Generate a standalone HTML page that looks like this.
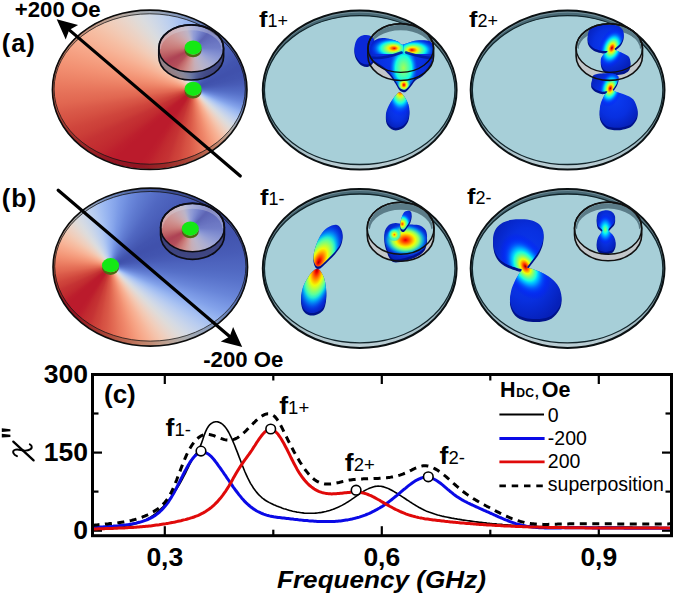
<!DOCTYPE html>
<html><head><meta charset="utf-8"><style>
html,body{margin:0;padding:0;background:#fff;}
#w{position:relative;width:675px;height:596px;overflow:hidden;background:#fff;font-family:"Liberation Sans",sans-serif;}
#w svg{position:absolute;left:0;top:0;}
</style></head><body><div id="w">
<div style="position:absolute;left:52.4px;top:10.1px;width:194.6px;height:159.4px;border-radius:50%;background:conic-gradient(from 0deg at 140.8px 78.9px, rgb(111,135,185) 0deg, rgb(103,128,183) 4deg, rgb(96,120,179) 8deg, rgb(90,114,175) 12deg, rgb(84,107,171) 16deg, rgb(79,101,167) 20deg, rgb(74,95,162) 24deg, rgb(70,90,159) 28deg, rgb(66,85,155) 32deg, rgb(62,81,150) 36deg, rgb(60,77,147) 40deg, rgb(58,74,145) 44deg, rgb(55,71,141) 48deg, rgb(54,68,139) 52deg, rgb(52,66,137) 56deg, rgb(51,65,135) 60deg, rgb(50,63,134) 64deg, rgb(50,63,134) 68deg, rgb(51,65,135) 72deg, rgb(52,66,137) 76deg, rgb(54,68,139) 80deg, rgb(56,72,143) 84deg, rgb(60,77,147) 88deg, rgb(63,82,151) 92deg, rgb(68,88,157) 96deg, rgb(75,96,163) 100deg, rgb(82,104,169) 104deg, rgb(92,116,177) 108deg, rgb(102,127,182) 112deg, rgb(116,139,187) 116deg, rgb(131,151,188) 120deg, rgb(143,159,187) 124deg, rgb(155,166,183) 128deg, rgb(165,170,178) 132deg, rgb(174,171,169) 136deg, rgb(182,166,158) 140deg, rgb(188,160,145) 144deg, rgb(191,152,133) 148deg, rgb(193,141,119) 152deg, rgb(192,132,108) 156deg, rgb(191,123,99) 160deg, rgb(188,113,89) 164deg, rgb(185,103,81) 168deg, rgb(182,95,74) 172deg, rgb(178,86,67) 176deg, rgb(174,77,61) 180deg, rgb(170,69,56) 184deg, rgb(166,62,52) 188deg, rgb(161,53,47) 192deg, rgb(158,48,44) 196deg, rgb(154,40,40) 200deg, rgb(152,36,38) 204deg, rgb(150,31,37) 208deg, rgb(147,24,35) 212deg, rgb(146,21,34) 216deg, rgb(146,21,34) 220deg, rgb(146,21,34) 224deg, rgb(146,21,34) 228deg, rgb(147,24,35) 232deg, rgb(150,31,37) 236deg, rgb(152,36,38) 240deg, rgb(154,40,40) 244deg, rgb(158,48,44) 248deg, rgb(161,53,47) 252deg, rgb(166,62,52) 256deg, rgb(170,71,57) 260deg, rgb(175,80,63) 264deg, rgb(179,88,68) 268deg, rgb(183,96,75) 272deg, rgb(186,105,82) 276deg, rgb(188,113,89) 280deg, rgb(191,120,96) 284deg, rgb(192,127,103) 288deg, rgb(193,134,111) 292deg, rgb(193,141,119) 296deg, rgb(192,147,127) 300deg, rgb(191,153,135) 304deg, rgb(188,159,144) 308deg, rgb(185,163,151) 312deg, rgb(181,167,159) 316deg, rgb(176,170,167) 320deg, rgb(171,172,173) 324deg, rgb(165,170,177) 328deg, rgb(159,168,181) 332deg, rgb(153,165,184) 336deg, rgb(147,161,186) 340deg, rgb(140,157,188) 344deg, rgb(133,152,188) 348deg, rgb(125,147,188) 352deg, rgb(118,140,187) 356deg, rgb(111,135,185) 360deg);"></div>
<div style="position:absolute;left:54.1px;top:13.8px;width:191.2px;height:150.4px;border-radius:50%;background:conic-gradient(from 0deg at 139.1px 75.2px, rgb(142,172,238) 0deg, rgb(133,164,234) 4deg, rgb(123,154,230) 8deg, rgb(115,146,225) 12deg, rgb(107,137,219) 16deg, rgb(101,129,214) 20deg, rgb(95,122,208) 24deg, rgb(90,116,203) 28deg, rgb(85,109,198) 32deg, rgb(80,103,193) 36deg, rgb(77,99,189) 40deg, rgb(74,95,186) 44deg, rgb(71,91,181) 48deg, rgb(69,88,178) 52deg, rgb(66,84,175) 56deg, rgb(65,83,174) 60deg, rgb(64,81,172) 64deg, rgb(64,81,172) 68deg, rgb(65,83,174) 72deg, rgb(66,84,175) 76deg, rgb(69,88,178) 80deg, rgb(72,92,183) 84deg, rgb(77,99,189) 88deg, rgb(81,105,194) 92deg, rgb(87,113,201) 96deg, rgb(96,123,209) 100deg, rgb(105,134,217) 104deg, rgb(118,148,226) 108deg, rgb(131,162,234) 112deg, rgb(149,179,240) 116deg, rgb(167,193,242) 120deg, rgb(184,204,240) 124deg, rgb(199,212,235) 128deg, rgb(212,218,228) 132deg, rgb(223,219,217) 136deg, rgb(233,213,203) 140deg, rgb(241,205,186) 144deg, rgb(245,194,170) 148deg, rgb(247,181,153) 152deg, rgb(247,169,139) 156deg, rgb(245,157,126) 160deg, rgb(242,144,114) 164deg, rgb(238,132,104) 168deg, rgb(233,122,95) 172deg, rgb(228,110,86) 176deg, rgb(223,99,78) 180deg, rgb(217,88,71) 184deg, rgb(213,80,66) 188deg, rgb(207,69,60) 192deg, rgb(203,62,56) 196deg, rgb(197,51,52) 200deg, rgb(195,46,49) 204deg, rgb(192,40,47) 208deg, rgb(189,31,45) 212deg, rgb(187,27,44) 216deg, rgb(187,27,44) 220deg, rgb(187,27,44) 224deg, rgb(187,27,44) 228deg, rgb(189,31,45) 232deg, rgb(192,40,47) 236deg, rgb(195,46,49) 240deg, rgb(197,51,52) 244deg, rgb(203,62,56) 248deg, rgb(207,69,60) 252deg, rgb(213,80,66) 256deg, rgb(218,90,73) 260deg, rgb(225,103,81) 264deg, rgb(229,112,88) 268deg, rgb(234,123,96) 272deg, rgb(238,134,105) 276deg, rgb(242,144,114) 280deg, rgb(244,154,123) 284deg, rgb(246,163,133) 288deg, rgb(247,172,142) 292deg, rgb(247,181,153) 296deg, rgb(246,189,162) 300deg, rgb(244,197,173) 304deg, rgb(241,204,184) 308deg, rgb(237,209,194) 312deg, rgb(232,214,204) 316deg, rgb(225,218,214) 320deg, rgb(219,220,222) 324deg, rgb(212,218,228) 328deg, rgb(204,215,232) 332deg, rgb(196,211,236) 336deg, rgb(188,207,239) 340deg, rgb(180,202,240) 344deg, rgb(170,195,242) 348deg, rgb(160,188,241) 352deg, rgb(151,180,240) 356deg, rgb(142,172,238) 360deg);"></div>
<div style="position:absolute;left:158.8px;top:24.8px;width:64.8px;height:47.2px;border-radius:50%;background:conic-gradient(from 0deg at 34.4px 23.2px, rgb(149,159,213) 0deg, rgb(144,155,213) 4deg, rgb(139,151,212) 8deg, rgb(133,146,210) 12deg, rgb(128,140,208) 16deg, rgb(123,136,206) 20deg, rgb(117,130,202) 24deg, rgb(112,124,199) 28deg, rgb(107,118,195) 32deg, rgb(103,113,191) 36deg, rgb(98,107,185) 40deg, rgb(93,100,180) 44deg, rgb(94,101,181) 48deg, rgb(95,104,183) 52deg, rgb(97,106,185) 56deg, rgb(99,109,187) 60deg, rgb(101,111,189) 64deg, rgb(103,113,191) 68deg, rgb(104,115,192) 72deg, rgb(107,118,194) 76deg, rgb(109,120,196) 80deg, rgb(110,122,197) 84deg, rgb(112,124,199) 88deg, rgb(116,128,201) 92deg, rgb(121,134,205) 96deg, rgb(126,139,207) 100deg, rgb(131,144,209) 104deg, rgb(136,148,211) 108deg, rgb(142,153,212) 112deg, rgb(146,157,213) 116deg, rgb(152,162,213) 120deg, rgb(157,165,213) 124deg, rgb(162,168,212) 128deg, rgb(167,171,211) 132deg, rgb(172,174,209) 136deg, rgb(175,175,208) 140deg, rgb(178,177,206) 144deg, rgb(181,178,204) 148deg, rgb(184,179,203) 152deg, rgb(187,180,200) 156deg, rgb(189,180,198) 160deg, rgb(192,178,194) 164deg, rgb(195,177,190) 168deg, rgb(197,175,187) 172deg, rgb(199,173,182) 176deg, rgb(202,169,174) 180deg, rgb(204,164,167) 184deg, rgb(206,158,158) 188deg, rgb(206,152,151) 192deg, rgb(206,144,142) 196deg, rgb(205,137,135) 200deg, rgb(203,129,128) 204deg, rgb(200,120,119) 208deg, rgb(196,112,113) 212deg, rgb(192,103,106) 216deg, rgb(187,92,98) 220deg, rgb(181,81,92) 224deg, rgb(179,77,90) 228deg, rgb(177,74,88) 232deg, rgb(176,72,87) 236deg, rgb(174,68,86) 240deg, rgb(174,67,85) 244deg, rgb(177,74,88) 248deg, rgb(182,83,93) 252deg, rgb(187,92,98) 256deg, rgb(191,100,104) 260deg, rgb(195,108,110) 264deg, rgb(199,117,116) 268deg, rgb(201,123,121) 272deg, rgb(203,128,127) 276deg, rgb(204,133,131) 280deg, rgb(205,138,136) 284deg, rgb(206,142,140) 288deg, rgb(206,147,145) 292deg, rgb(207,151,150) 296deg, rgb(206,155,155) 300deg, rgb(206,159,159) 304deg, rgb(205,162,165) 308deg, rgb(204,165,169) 312deg, rgb(202,169,174) 316deg, rgb(201,171,179) 320deg, rgb(199,173,183) 324deg, rgb(197,175,187) 328deg, rgb(194,177,191) 332deg, rgb(192,179,195) 336deg, rgb(189,180,199) 340deg, rgb(181,178,204) 344deg, rgb(173,175,209) 348deg, rgb(165,170,211) 352deg, rgb(158,165,213) 356deg, rgb(149,159,213) 360deg);"></div>
<div style="position:absolute;left:53.0px;top:188.1px;width:194.6px;height:158.1px;border-radius:50%;background:conic-gradient(from 0deg at 57.5px 77.3px, rgb(111,135,185) 0deg, rgb(103,128,183) 4deg, rgb(96,120,179) 8deg, rgb(90,114,175) 12deg, rgb(84,107,171) 16deg, rgb(79,101,167) 20deg, rgb(74,95,162) 24deg, rgb(70,90,159) 28deg, rgb(66,85,155) 32deg, rgb(62,81,150) 36deg, rgb(60,77,147) 40deg, rgb(58,74,145) 44deg, rgb(55,71,141) 48deg, rgb(54,68,139) 52deg, rgb(52,66,137) 56deg, rgb(51,65,135) 60deg, rgb(50,63,134) 64deg, rgb(50,63,134) 68deg, rgb(51,65,135) 72deg, rgb(52,66,137) 76deg, rgb(54,68,139) 80deg, rgb(56,72,143) 84deg, rgb(60,77,147) 88deg, rgb(63,82,151) 92deg, rgb(68,88,157) 96deg, rgb(75,96,163) 100deg, rgb(82,104,169) 104deg, rgb(92,116,177) 108deg, rgb(102,127,182) 112deg, rgb(116,139,187) 116deg, rgb(131,151,188) 120deg, rgb(143,159,187) 124deg, rgb(155,166,183) 128deg, rgb(165,170,178) 132deg, rgb(174,171,169) 136deg, rgb(182,166,158) 140deg, rgb(188,160,145) 144deg, rgb(191,152,133) 148deg, rgb(193,141,119) 152deg, rgb(192,132,108) 156deg, rgb(191,123,99) 160deg, rgb(188,113,89) 164deg, rgb(185,103,81) 168deg, rgb(182,95,74) 172deg, rgb(178,86,67) 176deg, rgb(174,77,61) 180deg, rgb(170,69,56) 184deg, rgb(166,62,52) 188deg, rgb(161,53,47) 192deg, rgb(158,48,44) 196deg, rgb(154,40,40) 200deg, rgb(152,36,38) 204deg, rgb(150,31,37) 208deg, rgb(147,24,35) 212deg, rgb(146,21,34) 216deg, rgb(146,21,34) 220deg, rgb(146,21,34) 224deg, rgb(146,21,34) 228deg, rgb(147,24,35) 232deg, rgb(150,31,37) 236deg, rgb(152,36,38) 240deg, rgb(154,40,40) 244deg, rgb(158,48,44) 248deg, rgb(161,53,47) 252deg, rgb(166,62,52) 256deg, rgb(170,71,57) 260deg, rgb(175,80,63) 264deg, rgb(179,88,68) 268deg, rgb(183,96,75) 272deg, rgb(186,105,82) 276deg, rgb(188,113,89) 280deg, rgb(191,120,96) 284deg, rgb(192,127,103) 288deg, rgb(193,134,111) 292deg, rgb(193,141,119) 296deg, rgb(192,147,127) 300deg, rgb(191,153,135) 304deg, rgb(188,159,144) 308deg, rgb(185,163,151) 312deg, rgb(181,167,159) 316deg, rgb(176,170,167) 320deg, rgb(171,172,173) 324deg, rgb(165,170,177) 328deg, rgb(159,168,181) 332deg, rgb(153,165,184) 336deg, rgb(147,161,186) 340deg, rgb(140,157,188) 344deg, rgb(133,152,188) 348deg, rgb(125,147,188) 352deg, rgb(118,140,187) 356deg, rgb(111,135,185) 360deg);"></div>
<div style="position:absolute;left:54.7px;top:191.5px;width:191.2px;height:149.6px;border-radius:50%;background:conic-gradient(from 0deg at 55.8px 73.9px, rgb(142,172,238) 0deg, rgb(133,164,234) 4deg, rgb(123,154,230) 8deg, rgb(115,146,225) 12deg, rgb(107,137,219) 16deg, rgb(101,129,214) 20deg, rgb(95,122,208) 24deg, rgb(90,116,203) 28deg, rgb(85,109,198) 32deg, rgb(80,103,193) 36deg, rgb(77,99,189) 40deg, rgb(74,95,186) 44deg, rgb(71,91,181) 48deg, rgb(69,88,178) 52deg, rgb(66,84,175) 56deg, rgb(65,83,174) 60deg, rgb(64,81,172) 64deg, rgb(64,81,172) 68deg, rgb(65,83,174) 72deg, rgb(66,84,175) 76deg, rgb(69,88,178) 80deg, rgb(72,92,183) 84deg, rgb(77,99,189) 88deg, rgb(81,105,194) 92deg, rgb(87,113,201) 96deg, rgb(96,123,209) 100deg, rgb(105,134,217) 104deg, rgb(118,148,226) 108deg, rgb(131,162,234) 112deg, rgb(149,179,240) 116deg, rgb(167,193,242) 120deg, rgb(184,204,240) 124deg, rgb(199,212,235) 128deg, rgb(212,218,228) 132deg, rgb(223,219,217) 136deg, rgb(233,213,203) 140deg, rgb(241,205,186) 144deg, rgb(245,194,170) 148deg, rgb(247,181,153) 152deg, rgb(247,169,139) 156deg, rgb(245,157,126) 160deg, rgb(242,144,114) 164deg, rgb(238,132,104) 168deg, rgb(233,122,95) 172deg, rgb(228,110,86) 176deg, rgb(223,99,78) 180deg, rgb(217,88,71) 184deg, rgb(213,80,66) 188deg, rgb(207,69,60) 192deg, rgb(203,62,56) 196deg, rgb(197,51,52) 200deg, rgb(195,46,49) 204deg, rgb(192,40,47) 208deg, rgb(189,31,45) 212deg, rgb(187,27,44) 216deg, rgb(187,27,44) 220deg, rgb(187,27,44) 224deg, rgb(187,27,44) 228deg, rgb(189,31,45) 232deg, rgb(192,40,47) 236deg, rgb(195,46,49) 240deg, rgb(197,51,52) 244deg, rgb(203,62,56) 248deg, rgb(207,69,60) 252deg, rgb(213,80,66) 256deg, rgb(218,90,73) 260deg, rgb(225,103,81) 264deg, rgb(229,112,88) 268deg, rgb(234,123,96) 272deg, rgb(238,134,105) 276deg, rgb(242,144,114) 280deg, rgb(244,154,123) 284deg, rgb(246,163,133) 288deg, rgb(247,172,142) 292deg, rgb(247,181,153) 296deg, rgb(246,189,162) 300deg, rgb(244,197,173) 304deg, rgb(241,204,184) 308deg, rgb(237,209,194) 312deg, rgb(232,214,204) 316deg, rgb(225,218,214) 320deg, rgb(219,220,222) 324deg, rgb(212,218,228) 328deg, rgb(204,215,232) 332deg, rgb(196,211,236) 336deg, rgb(188,207,239) 340deg, rgb(180,202,240) 344deg, rgb(170,195,242) 348deg, rgb(160,188,241) 352deg, rgb(151,180,240) 356deg, rgb(142,172,238) 360deg);"></div>
<div style="position:absolute;left:160.6px;top:203.3px;width:63.8px;height:48.4px;border-radius:50%;background:conic-gradient(from 0deg at 29.4px 25.6px, rgb(149,159,213) 0deg, rgb(144,155,213) 4deg, rgb(139,151,212) 8deg, rgb(133,146,210) 12deg, rgb(128,140,208) 16deg, rgb(123,136,206) 20deg, rgb(117,130,202) 24deg, rgb(112,124,199) 28deg, rgb(107,118,195) 32deg, rgb(103,113,191) 36deg, rgb(98,107,185) 40deg, rgb(93,100,180) 44deg, rgb(94,101,181) 48deg, rgb(95,104,183) 52deg, rgb(97,106,185) 56deg, rgb(99,109,187) 60deg, rgb(101,111,189) 64deg, rgb(103,113,191) 68deg, rgb(104,115,192) 72deg, rgb(107,118,194) 76deg, rgb(109,120,196) 80deg, rgb(110,122,197) 84deg, rgb(112,124,199) 88deg, rgb(116,128,201) 92deg, rgb(121,134,205) 96deg, rgb(126,139,207) 100deg, rgb(131,144,209) 104deg, rgb(136,148,211) 108deg, rgb(142,153,212) 112deg, rgb(146,157,213) 116deg, rgb(152,162,213) 120deg, rgb(157,165,213) 124deg, rgb(162,168,212) 128deg, rgb(167,171,211) 132deg, rgb(172,174,209) 136deg, rgb(175,175,208) 140deg, rgb(178,177,206) 144deg, rgb(181,178,204) 148deg, rgb(184,179,203) 152deg, rgb(187,180,200) 156deg, rgb(189,180,198) 160deg, rgb(192,178,194) 164deg, rgb(195,177,190) 168deg, rgb(197,175,187) 172deg, rgb(199,173,182) 176deg, rgb(202,169,174) 180deg, rgb(204,164,167) 184deg, rgb(206,158,158) 188deg, rgb(206,152,151) 192deg, rgb(206,144,142) 196deg, rgb(205,137,135) 200deg, rgb(203,129,128) 204deg, rgb(200,120,119) 208deg, rgb(196,112,113) 212deg, rgb(192,103,106) 216deg, rgb(187,92,98) 220deg, rgb(181,81,92) 224deg, rgb(179,77,90) 228deg, rgb(177,74,88) 232deg, rgb(176,72,87) 236deg, rgb(174,68,86) 240deg, rgb(174,67,85) 244deg, rgb(177,74,88) 248deg, rgb(182,83,93) 252deg, rgb(187,92,98) 256deg, rgb(191,100,104) 260deg, rgb(195,108,110) 264deg, rgb(199,117,116) 268deg, rgb(201,123,121) 272deg, rgb(203,128,127) 276deg, rgb(204,133,131) 280deg, rgb(205,138,136) 284deg, rgb(206,142,140) 288deg, rgb(206,147,145) 292deg, rgb(207,151,150) 296deg, rgb(206,155,155) 300deg, rgb(206,159,159) 304deg, rgb(205,162,165) 308deg, rgb(204,165,169) 312deg, rgb(202,169,174) 316deg, rgb(201,171,179) 320deg, rgb(199,173,183) 324deg, rgb(197,175,187) 328deg, rgb(194,177,191) 332deg, rgb(192,179,195) 336deg, rgb(189,180,199) 340deg, rgb(181,178,204) 344deg, rgb(173,175,209) 348deg, rgb(165,170,211) 352deg, rgb(158,165,213) 356deg, rgb(149,159,213) 360deg);"></div>
<svg width="675" height="596" viewBox="0 0 675 596">
<defs><radialGradient id="bbase" cx="0.5" cy="0.45" r="0.6"><stop offset="0" stop-color="#0a3cf5"/><stop offset="0.6" stop-color="#0830e0"/><stop offset="1" stop-color="#0620b8"/></radialGradient>
<linearGradient id="bd1" x1="0" y1="0" x2="0" y2="1"><stop offset="0" stop-color="#4a6b77"/><stop offset="0.3" stop-color="#3f5d68"/><stop offset="0.6" stop-color="#3f5d68"/><stop offset="0.82" stop-color="#9ab4bd"/><stop offset="1" stop-color="#bdd0d6"/></linearGradient>
<linearGradient id="bd2" x1="0" y1="0" x2="0" y2="1"><stop offset="0" stop-color="#4a6b77"/><stop offset="0.3" stop-color="#3f5d68"/><stop offset="0.6" stop-color="#3f5d68"/><stop offset="0.82" stop-color="#9ab4bd"/><stop offset="1" stop-color="#bdd0d6"/></linearGradient>
<linearGradient id="bd3" x1="0" y1="0" x2="0" y2="1"><stop offset="0" stop-color="#4a6b77"/><stop offset="0.3" stop-color="#3f5d68"/><stop offset="0.6" stop-color="#3f5d68"/><stop offset="0.82" stop-color="#9ab4bd"/><stop offset="1" stop-color="#bdd0d6"/></linearGradient>
<linearGradient id="bd4" x1="0" y1="0" x2="0" y2="1"><stop offset="0" stop-color="#4a6b77"/><stop offset="0.3" stop-color="#3f5d68"/><stop offset="0.6" stop-color="#3f5d68"/><stop offset="0.82" stop-color="#9ab4bd"/><stop offset="1" stop-color="#bdd0d6"/></linearGradient>
<clipPath id="c5"><path d="M355.1,44.1 C355.7,41.9 356.6,39.6 358.1,38.1 C359.6,36.6 362.1,35.5 364.1,35.1 C366.1,34.7 368.5,34.9 370.2,35.7 C371.9,36.5 373.4,37.7 374.2,40.1 C375.0,42.5 375.4,46.9 375.2,50.2 C375.0,53.6 374.4,57.9 373.2,60.2 C372.0,62.6 370.0,63.8 368.2,64.3 C366.4,64.8 364.0,64.3 362.1,63.3 C360.2,62.3 358.4,60.2 357.1,58.2 C355.8,56.2 354.8,53.6 354.5,51.2 C354.2,48.9 354.5,46.3 355.1,44.1 Z"/></clipPath>
<clipPath id="c6"><path d="M371.9,43.4 C372.8,42.0 373.6,40.8 375.4,39.9 C377.2,39.0 379.9,38.2 382.5,38.1 C385.1,38.0 388.2,38.7 390.8,39.3 C393.4,39.9 396.1,40.7 397.9,41.6 C399.7,42.5 400.2,44.2 401.5,44.6 C402.8,45.0 404.1,44.2 405.5,43.8 C406.9,43.4 407.9,42.8 409.8,42.2 C411.7,41.6 414.1,40.7 416.9,40.4 C419.7,40.1 424.0,40.1 426.4,40.4 C428.8,40.7 429.9,40.9 431.1,42.2 C432.3,43.5 433.2,45.9 433.5,48.1 C433.8,50.3 433.3,52.9 432.9,55.3 C432.5,57.7 432.2,60.0 431.1,62.4 C430.0,64.8 428.0,67.5 426.4,69.5 C424.8,71.5 423.4,72.8 421.6,74.2 C419.8,75.6 417.5,76.2 415.7,77.8 C413.9,79.4 412.6,81.8 411.0,83.7 C409.4,85.6 407.6,88.0 406.2,89.0 C404.8,90.0 403.9,89.9 402.7,89.6 C401.5,89.3 400.3,88.7 399.1,87.3 C397.9,85.9 397.0,83.5 395.6,81.3 C394.2,79.1 392.8,76.6 390.8,74.2 C388.8,71.8 386.1,69.1 383.7,67.1 C381.3,65.1 378.6,63.8 376.6,62.4 C374.6,61.0 373.0,60.2 371.9,58.8 C370.8,57.4 370.4,55.9 370.1,54.1 C369.8,52.3 369.8,49.9 370.1,48.1 C370.4,46.3 371.0,44.8 371.9,43.4 Z"/></clipPath>
<radialGradient id="g7" cx="0.5" cy="0.5" r="0.5" fx="0.50" fy="0.50"><stop offset="0.000" stop-color="rgb(164,255,83)" stop-opacity="1.00"/><stop offset="0.071" stop-color="rgb(148,255,99)" stop-opacity="1.00"/><stop offset="0.143" stop-color="rgb(131,255,115)" stop-opacity="1.00"/><stop offset="0.214" stop-color="rgb(115,255,131)" stop-opacity="1.00"/><stop offset="0.286" stop-color="rgb(96,255,151)" stop-opacity="1.00"/><stop offset="0.357" stop-color="rgb(80,255,167)" stop-opacity="1.00"/><stop offset="0.429" stop-color="rgb(60,255,186)" stop-opacity="1.00"/><stop offset="0.500" stop-color="rgb(41,255,206)" stop-opacity="1.00"/><stop offset="0.571" stop-color="rgb(22,255,225)" stop-opacity="1.00"/><stop offset="0.643" stop-color="rgb(2,232,244)" stop-opacity="0.89"/><stop offset="0.714" stop-color="rgb(0,208,255)" stop-opacity="0.71"/><stop offset="0.786" stop-color="rgb(0,180,255)" stop-opacity="0.54"/><stop offset="0.857" stop-color="rgb(0,152,255)" stop-opacity="0.36"/><stop offset="0.929" stop-color="rgb(0,120,255)" stop-opacity="0.18"/><stop offset="1.000" stop-color="rgb(0,76,255)" stop-opacity="0.00"/></radialGradient>
<radialGradient id="g8" cx="0.5" cy="0.5" r="0.5" fx="0.60" fy="0.50"><stop offset="0.000" stop-color="rgb(218,0,0)" stop-opacity="1.00"/><stop offset="0.071" stop-color="rgb(255,74,0)" stop-opacity="1.00"/><stop offset="0.143" stop-color="rgb(255,156,0)" stop-opacity="1.00"/><stop offset="0.214" stop-color="rgb(255,234,0)" stop-opacity="1.00"/><stop offset="0.286" stop-color="rgb(193,255,54)" stop-opacity="1.00"/><stop offset="0.357" stop-color="rgb(135,255,112)" stop-opacity="1.00"/><stop offset="0.429" stop-color="rgb(80,255,167)" stop-opacity="1.00"/><stop offset="0.500" stop-color="rgb(31,255,215)" stop-opacity="1.00"/><stop offset="0.571" stop-color="rgb(0,212,255)" stop-opacity="1.00"/><stop offset="0.643" stop-color="rgb(0,160,255)" stop-opacity="0.89"/><stop offset="0.714" stop-color="rgb(0,116,255)" stop-opacity="0.71"/><stop offset="0.786" stop-color="rgb(0,80,255)" stop-opacity="0.54"/><stop offset="0.857" stop-color="rgb(0,52,255)" stop-opacity="0.36"/><stop offset="0.929" stop-color="rgb(0,32,255)" stop-opacity="0.18"/><stop offset="1.000" stop-color="rgb(0,24,255)" stop-opacity="0.00"/></radialGradient>
<clipPath id="hc9"><rect x="360.0" y="20.0" width="43.5" height="34.0"/></clipPath>
<radialGradient id="g10" cx="0.5" cy="0.5" r="0.5" fx="0.40" fy="0.50"><stop offset="0.000" stop-color="rgb(218,0,0)" stop-opacity="1.00"/><stop offset="0.071" stop-color="rgb(255,74,0)" stop-opacity="1.00"/><stop offset="0.143" stop-color="rgb(255,156,0)" stop-opacity="1.00"/><stop offset="0.214" stop-color="rgb(255,234,0)" stop-opacity="1.00"/><stop offset="0.286" stop-color="rgb(193,255,54)" stop-opacity="1.00"/><stop offset="0.357" stop-color="rgb(135,255,112)" stop-opacity="1.00"/><stop offset="0.429" stop-color="rgb(80,255,167)" stop-opacity="1.00"/><stop offset="0.500" stop-color="rgb(31,255,215)" stop-opacity="1.00"/><stop offset="0.571" stop-color="rgb(0,212,255)" stop-opacity="1.00"/><stop offset="0.643" stop-color="rgb(0,160,255)" stop-opacity="0.89"/><stop offset="0.714" stop-color="rgb(0,116,255)" stop-opacity="0.71"/><stop offset="0.786" stop-color="rgb(0,80,255)" stop-opacity="0.54"/><stop offset="0.857" stop-color="rgb(0,52,255)" stop-opacity="0.36"/><stop offset="0.929" stop-color="rgb(0,32,255)" stop-opacity="0.18"/><stop offset="1.000" stop-color="rgb(0,24,255)" stop-opacity="0.00"/></radialGradient>
<clipPath id="hc11"><rect x="403.5" y="20.0" width="40.0" height="34.0"/></clipPath>
<radialGradient id="g12" cx="0.5" cy="0.5" r="0.5" fx="0.50" fy="0.50"><stop offset="0.000" stop-color="rgb(182,0,0)" stop-opacity="1.00"/><stop offset="0.071" stop-color="rgb(255,19,0)" stop-opacity="1.00"/><stop offset="0.143" stop-color="rgb(255,78,0)" stop-opacity="1.00"/><stop offset="0.214" stop-color="rgb(255,134,0)" stop-opacity="1.00"/><stop offset="0.286" stop-color="rgb(255,185,0)" stop-opacity="1.00"/><stop offset="0.357" stop-color="rgb(254,237,0)" stop-opacity="1.00"/><stop offset="0.429" stop-color="rgb(212,255,35)" stop-opacity="1.00"/><stop offset="0.500" stop-color="rgb(173,255,73)" stop-opacity="1.00"/><stop offset="0.571" stop-color="rgb(138,255,109)" stop-opacity="1.00"/><stop offset="0.643" stop-color="rgb(106,255,141)" stop-opacity="0.89"/><stop offset="0.714" stop-color="rgb(77,255,170)" stop-opacity="0.71"/><stop offset="0.786" stop-color="rgb(48,255,199)" stop-opacity="0.54"/><stop offset="0.857" stop-color="rgb(25,255,222)" stop-opacity="0.36"/><stop offset="0.929" stop-color="rgb(9,240,238)" stop-opacity="0.18"/><stop offset="1.000" stop-color="rgb(0,228,248)" stop-opacity="0.00"/></radialGradient>
<clipPath id="c13"><path d="M400.4,92.4 C401.6,92.9 403.1,94.5 404.4,96.5 C405.7,98.5 407.6,101.8 408.4,104.5 C409.2,107.2 409.6,109.9 409.4,112.6 C409.2,115.3 408.7,118.3 407.4,120.6 C406.1,122.9 403.8,125.4 401.4,126.6 C399.0,127.8 395.6,128.3 393.3,127.6 C391.0,126.9 388.5,124.8 387.3,122.6 C386.1,120.4 385.7,117.3 385.9,114.6 C386.1,111.9 387.1,109.2 388.3,106.5 C389.5,103.8 391.8,100.7 393.3,98.5 C394.8,96.3 396.1,94.4 397.3,93.4 C398.5,92.4 399.2,91.9 400.4,92.4 Z"/></clipPath>
<radialGradient id="g14" cx="0.5" cy="0.5" r="0.5" fx="0.50" fy="0.40"><stop offset="0.000" stop-color="rgb(182,0,0)" stop-opacity="1.00"/><stop offset="0.071" stop-color="rgb(255,56,0)" stop-opacity="1.00"/><stop offset="0.143" stop-color="rgb(255,145,0)" stop-opacity="1.00"/><stop offset="0.214" stop-color="rgb(255,226,0)" stop-opacity="1.00"/><stop offset="0.286" stop-color="rgb(196,255,51)" stop-opacity="1.00"/><stop offset="0.357" stop-color="rgb(131,255,115)" stop-opacity="1.00"/><stop offset="0.429" stop-color="rgb(77,255,170)" stop-opacity="1.00"/><stop offset="0.500" stop-color="rgb(25,255,222)" stop-opacity="1.00"/><stop offset="0.571" stop-color="rgb(0,200,255)" stop-opacity="1.00"/><stop offset="0.643" stop-color="rgb(0,152,255)" stop-opacity="0.89"/><stop offset="0.714" stop-color="rgb(0,108,255)" stop-opacity="0.71"/><stop offset="0.786" stop-color="rgb(0,76,255)" stop-opacity="0.54"/><stop offset="0.857" stop-color="rgb(0,48,255)" stop-opacity="0.36"/><stop offset="0.929" stop-color="rgb(0,32,255)" stop-opacity="0.18"/><stop offset="1.000" stop-color="rgb(0,24,255)" stop-opacity="0.00"/></radialGradient>
<clipPath id="c15"><path d="M587.7,40.2 C587.4,38.3 587.7,34.5 588.3,32.6 C588.9,30.7 589.8,28.7 591.4,27.6 C593.0,26.5 596.5,25.6 599.0,25.1 C601.5,24.6 605.0,24.3 607.8,24.4 C610.6,24.5 615.6,24.8 617.9,25.7 C620.2,26.6 622.0,28.5 622.9,30.1 C623.8,31.7 623.9,34.5 623.6,36.4 C623.3,38.3 622.0,41.1 621.0,42.7 C620.0,44.3 617.5,46.1 616.6,47.1 C615.7,48.1 613.9,48.7 614.7,49.6 C615.5,50.5 619.6,51.8 621.7,52.8 C623.8,53.8 627.3,55.1 628.6,56.6 C629.9,58.1 630.5,61.1 630.5,62.9 C630.5,64.7 629.7,67.2 628.6,68.5 C627.5,69.8 625.1,71.1 622.9,71.7 C620.7,72.3 616.7,72.5 614.1,72.3 C611.5,72.1 607.2,71.4 605.3,70.4 C603.4,69.4 602.2,67.1 601.5,65.4 C600.8,63.7 600.6,60.7 600.9,59.1 C601.2,57.5 602.4,55.8 603.4,54.7 C604.4,53.6 607.9,52.1 607.8,51.5 C607.7,50.9 604.7,51.3 602.8,50.9 C600.9,50.5 597.1,49.9 595.2,49.0 C593.3,48.1 591.3,46.5 590.2,45.2 C589.1,43.9 588.0,42.1 587.7,40.2 Z"/></clipPath>
<radialGradient id="g16" cx="0.5" cy="0.5" r="0.5" fx="0.50" fy="0.50"><stop offset="0.000" stop-color="rgb(128,0,0)" stop-opacity="1.00"/><stop offset="0.071" stop-color="rgb(255,30,0)" stop-opacity="1.00"/><stop offset="0.143" stop-color="rgb(255,137,0)" stop-opacity="1.00"/><stop offset="0.214" stop-color="rgb(255,234,0)" stop-opacity="1.00"/><stop offset="0.286" stop-color="rgb(180,255,67)" stop-opacity="1.00"/><stop offset="0.357" stop-color="rgb(112,255,135)" stop-opacity="1.00"/><stop offset="0.429" stop-color="rgb(51,255,196)" stop-opacity="1.00"/><stop offset="0.500" stop-color="rgb(0,228,248)" stop-opacity="1.00"/><stop offset="0.571" stop-color="rgb(0,172,255)" stop-opacity="1.00"/><stop offset="0.643" stop-color="rgb(0,124,255)" stop-opacity="0.89"/><stop offset="0.714" stop-color="rgb(0,88,255)" stop-opacity="0.71"/><stop offset="0.786" stop-color="rgb(0,56,255)" stop-opacity="0.54"/><stop offset="0.857" stop-color="rgb(0,40,255)" stop-opacity="0.36"/><stop offset="0.929" stop-color="rgb(0,28,255)" stop-opacity="0.18"/><stop offset="1.000" stop-color="rgb(0,24,255)" stop-opacity="0.00"/></radialGradient>
<clipPath id="c17"><path d="M592.2,79.4 C592.5,78.1 592.0,76.3 593.2,75.4 C594.4,74.5 597.3,73.7 600.2,73.4 C603.1,73.1 609.6,73.0 612.3,73.4 C615.0,73.9 617.6,75.1 618.4,76.4 C619.1,77.8 617.9,80.8 617.3,82.4 C616.7,84.1 614.9,86.2 614.3,87.4 C613.7,88.6 611.8,89.4 613.3,90.5 C614.8,91.6 621.4,93.2 624.4,94.5 C627.4,95.8 631.4,97.2 633.4,99.5 C635.4,101.8 637.0,106.9 637.5,109.6 C638.0,112.3 637.6,115.3 636.5,117.6 C635.4,119.9 633.1,123.2 630.4,124.7 C627.7,126.2 622.0,127.5 618.4,127.7 C614.8,127.9 609.0,127.2 606.3,125.7 C603.6,124.2 601.1,120.6 600.2,117.6 C599.3,114.6 599.6,108.8 600.2,105.5 C600.8,102.2 603.2,97.6 604.3,95.5 C605.4,93.4 607.8,92.1 607.3,91.5 C606.8,90.9 603.2,92.0 601.2,91.5 C599.2,91.0 595.7,89.5 594.2,88.4 C592.7,87.3 591.5,85.8 591.2,84.4 C590.9,83.1 591.9,80.8 592.2,79.4 Z"/></clipPath>
<radialGradient id="g18" cx="0.5" cy="0.5" r="0.5" fx="0.50" fy="0.50"><stop offset="0.000" stop-color="rgb(128,0,0)" stop-opacity="1.00"/><stop offset="0.071" stop-color="rgb(255,30,0)" stop-opacity="1.00"/><stop offset="0.143" stop-color="rgb(255,137,0)" stop-opacity="1.00"/><stop offset="0.214" stop-color="rgb(255,234,0)" stop-opacity="1.00"/><stop offset="0.286" stop-color="rgb(180,255,67)" stop-opacity="1.00"/><stop offset="0.357" stop-color="rgb(112,255,135)" stop-opacity="1.00"/><stop offset="0.429" stop-color="rgb(51,255,196)" stop-opacity="1.00"/><stop offset="0.500" stop-color="rgb(0,228,248)" stop-opacity="1.00"/><stop offset="0.571" stop-color="rgb(0,172,255)" stop-opacity="1.00"/><stop offset="0.643" stop-color="rgb(0,124,255)" stop-opacity="0.89"/><stop offset="0.714" stop-color="rgb(0,88,255)" stop-opacity="0.71"/><stop offset="0.786" stop-color="rgb(0,56,255)" stop-opacity="0.54"/><stop offset="0.857" stop-color="rgb(0,40,255)" stop-opacity="0.36"/><stop offset="0.929" stop-color="rgb(0,28,255)" stop-opacity="0.18"/><stop offset="1.000" stop-color="rgb(0,24,255)" stop-opacity="0.00"/></radialGradient>
<clipPath id="c19"><path d="M336.2,224.8 C338.4,225.0 339.7,226.8 340.8,228.5 C341.9,230.2 342.6,232.5 342.6,234.9 C342.6,237.3 342.0,240.4 340.8,243.2 C339.6,246.0 337.2,249.0 335.2,251.5 C333.2,254.0 330.8,256.0 328.8,258.0 C326.8,260.0 324.8,262.1 323.2,263.5 C321.6,264.9 320.7,266.0 319.5,266.3 C318.3,266.6 316.8,266.5 315.8,265.4 C314.8,264.3 313.9,261.9 313.6,259.8 C313.3,257.7 313.5,255.3 314.0,252.5 C314.5,249.7 315.6,246.3 316.8,243.2 C318.0,240.1 319.6,236.6 321.4,234.0 C323.2,231.4 325.3,229.0 327.8,227.5 C330.3,226.0 334.0,224.6 336.2,224.8 Z"/></clipPath>
<radialGradient id="g20" cx="0.5" cy="0.5" r="0.5" fx="0.50" fy="0.62"><stop offset="0.000" stop-color="rgb(159,0,0)" stop-opacity="1.00"/><stop offset="0.071" stop-color="rgb(237,4,0)" stop-opacity="1.00"/><stop offset="0.143" stop-color="rgb(255,67,0)" stop-opacity="1.00"/><stop offset="0.214" stop-color="rgb(255,130,0)" stop-opacity="1.00"/><stop offset="0.286" stop-color="rgb(255,193,0)" stop-opacity="1.00"/><stop offset="0.357" stop-color="rgb(241,252,6)" stop-opacity="1.00"/><stop offset="0.429" stop-color="rgb(190,255,57)" stop-opacity="1.00"/><stop offset="0.500" stop-color="rgb(138,255,109)" stop-opacity="1.00"/><stop offset="0.571" stop-color="rgb(90,255,157)" stop-opacity="1.00"/><stop offset="0.643" stop-color="rgb(41,255,206)" stop-opacity="0.89"/><stop offset="0.714" stop-color="rgb(0,224,251)" stop-opacity="0.71"/><stop offset="0.786" stop-color="rgb(0,168,255)" stop-opacity="0.54"/><stop offset="0.857" stop-color="rgb(0,112,255)" stop-opacity="0.36"/><stop offset="0.929" stop-color="rgb(0,64,255)" stop-opacity="0.18"/><stop offset="1.000" stop-color="rgb(0,24,255)" stop-opacity="0.00"/></radialGradient>
<clipPath id="c21"><path d="M316.8,269.1 C318.2,269.0 319.3,269.4 320.5,270.9 C321.7,272.4 323.3,275.5 324.2,278.3 C325.1,281.1 325.7,284.1 326.0,287.5 C326.3,290.9 326.5,295.2 326.0,298.6 C325.5,302.0 324.9,305.5 323.2,307.8 C321.5,310.1 318.2,311.7 315.8,312.5 C313.4,313.3 310.6,313.3 308.5,312.5 C306.4,311.7 304.1,310.1 302.9,307.8 C301.7,305.5 301.1,302.0 301.1,298.6 C301.1,295.2 301.8,290.9 302.9,287.5 C304.0,284.1 305.9,280.9 307.5,278.3 C309.1,275.7 310.6,273.3 312.2,271.8 C313.8,270.3 315.4,269.2 316.8,269.1 Z"/></clipPath>
<radialGradient id="g22" cx="0.5" cy="0.5" r="0.5" fx="0.50" fy="0.38"><stop offset="0.000" stop-color="rgb(159,0,0)" stop-opacity="1.00"/><stop offset="0.071" stop-color="rgb(237,4,0)" stop-opacity="1.00"/><stop offset="0.143" stop-color="rgb(255,67,0)" stop-opacity="1.00"/><stop offset="0.214" stop-color="rgb(255,130,0)" stop-opacity="1.00"/><stop offset="0.286" stop-color="rgb(255,193,0)" stop-opacity="1.00"/><stop offset="0.357" stop-color="rgb(241,252,6)" stop-opacity="1.00"/><stop offset="0.429" stop-color="rgb(190,255,57)" stop-opacity="1.00"/><stop offset="0.500" stop-color="rgb(138,255,109)" stop-opacity="1.00"/><stop offset="0.571" stop-color="rgb(90,255,157)" stop-opacity="1.00"/><stop offset="0.643" stop-color="rgb(41,255,206)" stop-opacity="0.89"/><stop offset="0.714" stop-color="rgb(0,224,251)" stop-opacity="0.71"/><stop offset="0.786" stop-color="rgb(0,168,255)" stop-opacity="0.54"/><stop offset="0.857" stop-color="rgb(0,112,255)" stop-opacity="0.36"/><stop offset="0.929" stop-color="rgb(0,64,255)" stop-opacity="0.18"/><stop offset="1.000" stop-color="rgb(0,24,255)" stop-opacity="0.00"/></radialGradient>
<clipPath id="c23"><path d="M385.5,229.4 C386.4,227.6 387.9,225.7 389.6,224.6 C391.3,223.5 393.4,223.0 395.6,222.9 C397.8,222.8 400.4,223.7 403.0,224.0 C405.6,224.3 408.3,224.4 411.0,224.6 C413.7,224.8 416.9,224.4 419.3,225.2 C421.7,226.0 423.9,227.7 425.2,229.4 C426.5,231.1 426.8,233.1 427.0,235.3 C427.2,237.5 426.9,240.2 426.4,242.4 C425.9,244.6 425.4,246.5 424.0,248.3 C422.6,250.1 420.5,251.7 418.1,253.1 C415.7,254.5 412.8,255.6 409.8,256.6 C406.8,257.6 403.1,258.6 400.3,259.0 C397.5,259.4 395.1,259.8 393.2,259.0 C391.3,258.2 390.1,256.1 389.0,254.3 C387.9,252.5 387.4,250.3 386.7,248.3 C386.0,246.3 385.3,244.6 384.9,242.4 C384.5,240.2 384.2,237.5 384.3,235.3 C384.4,233.1 384.6,231.2 385.5,229.4 Z"/></clipPath>
<radialGradient id="g24" cx="0.5" cy="0.5" r="0.5" fx="0.50" fy="0.50"><stop offset="0.000" stop-color="rgb(205,0,0)" stop-opacity="1.00"/><stop offset="0.071" stop-color="rgb(255,26,0)" stop-opacity="1.00"/><stop offset="0.143" stop-color="rgb(255,71,0)" stop-opacity="1.00"/><stop offset="0.214" stop-color="rgb(255,115,0)" stop-opacity="1.00"/><stop offset="0.286" stop-color="rgb(255,163,0)" stop-opacity="1.00"/><stop offset="0.357" stop-color="rgb(255,211,0)" stop-opacity="1.00"/><stop offset="0.429" stop-color="rgb(235,255,12)" stop-opacity="1.00"/><stop offset="0.500" stop-color="rgb(193,255,54)" stop-opacity="1.00"/><stop offset="0.571" stop-color="rgb(148,255,99)" stop-opacity="1.00"/><stop offset="0.643" stop-color="rgb(102,255,144)" stop-opacity="0.89"/><stop offset="0.714" stop-color="rgb(57,255,190)" stop-opacity="0.71"/><stop offset="0.786" stop-color="rgb(9,240,238)" stop-opacity="0.54"/><stop offset="0.857" stop-color="rgb(0,176,255)" stop-opacity="0.36"/><stop offset="0.929" stop-color="rgb(0,108,255)" stop-opacity="0.18"/><stop offset="1.000" stop-color="rgb(0,24,255)" stop-opacity="0.00"/></radialGradient>
<radialGradient id="g25" cx="0.5" cy="0.5" r="0.5" fx="0.50" fy="0.50"><stop offset="0.000" stop-color="rgb(255,104,0)" stop-opacity="1.00"/><stop offset="0.071" stop-color="rgb(255,152,0)" stop-opacity="1.00"/><stop offset="0.143" stop-color="rgb(255,200,0)" stop-opacity="1.00"/><stop offset="0.214" stop-color="rgb(244,248,2)" stop-opacity="1.00"/><stop offset="0.286" stop-color="rgb(209,255,38)" stop-opacity="1.00"/><stop offset="0.357" stop-color="rgb(170,255,77)" stop-opacity="1.00"/><stop offset="0.429" stop-color="rgb(138,255,109)" stop-opacity="1.00"/><stop offset="0.500" stop-color="rgb(106,255,141)" stop-opacity="1.00"/><stop offset="0.571" stop-color="rgb(73,255,173)" stop-opacity="1.00"/><stop offset="0.643" stop-color="rgb(48,255,199)" stop-opacity="0.89"/><stop offset="0.714" stop-color="rgb(22,255,225)" stop-opacity="0.71"/><stop offset="0.786" stop-color="rgb(0,228,248)" stop-opacity="0.54"/><stop offset="0.857" stop-color="rgb(0,204,255)" stop-opacity="0.36"/><stop offset="0.929" stop-color="rgb(0,188,255)" stop-opacity="0.18"/><stop offset="1.000" stop-color="rgb(0,176,255)" stop-opacity="0.00"/></radialGradient>
<clipPath id="c26"><path d="M405.0,211.6 C406.3,210.7 408.7,210.6 409.8,211.0 C410.9,211.4 411.5,212.5 411.6,214.0 C411.7,215.5 411.2,217.9 410.4,219.9 C409.6,221.9 407.9,224.2 406.8,225.8 C405.7,227.4 404.9,229.0 403.9,229.4 C402.9,229.8 401.5,229.2 400.9,228.2 C400.3,227.2 400.1,225.4 400.3,223.4 C400.5,221.4 401.3,218.3 402.1,216.3 C402.9,214.3 403.7,212.5 405.0,211.6 Z"/></clipPath>
<radialGradient id="g27" cx="0.5" cy="0.5" r="0.5" fx="0.50" fy="0.50"><stop offset="0.000" stop-color="rgb(255,56,0)" stop-opacity="1.00"/><stop offset="0.071" stop-color="rgb(255,126,0)" stop-opacity="1.00"/><stop offset="0.143" stop-color="rgb(255,193,0)" stop-opacity="1.00"/><stop offset="0.214" stop-color="rgb(238,255,9)" stop-opacity="1.00"/><stop offset="0.286" stop-color="rgb(183,255,64)" stop-opacity="1.00"/><stop offset="0.357" stop-color="rgb(131,255,115)" stop-opacity="1.00"/><stop offset="0.429" stop-color="rgb(83,255,164)" stop-opacity="1.00"/><stop offset="0.500" stop-color="rgb(38,255,209)" stop-opacity="1.00"/><stop offset="0.571" stop-color="rgb(0,224,251)" stop-opacity="1.00"/><stop offset="0.643" stop-color="rgb(0,176,255)" stop-opacity="0.89"/><stop offset="0.714" stop-color="rgb(0,132,255)" stop-opacity="0.71"/><stop offset="0.786" stop-color="rgb(0,96,255)" stop-opacity="0.54"/><stop offset="0.857" stop-color="rgb(0,64,255)" stop-opacity="0.36"/><stop offset="0.929" stop-color="rgb(0,36,255)" stop-opacity="0.18"/><stop offset="1.000" stop-color="rgb(0,24,255)" stop-opacity="0.00"/></radialGradient>
<clipPath id="c28"><path d="M493.5,246.0 C493.1,243.0 492.8,239.0 493.3,236.0 C493.8,233.0 494.9,230.2 496.5,228.0 C498.1,225.8 500.4,223.9 503.0,222.5 C505.6,221.1 508.8,220.3 512.0,219.8 C515.2,219.3 518.7,219.2 522.0,219.3 C525.3,219.4 529.1,219.6 532.0,220.5 C534.9,221.4 537.6,222.7 539.5,224.5 C541.4,226.3 542.7,228.8 543.3,231.5 C543.9,234.2 543.6,237.4 543.0,240.5 C542.4,243.6 541.0,247.1 539.5,250.0 C538.0,252.9 535.7,255.7 534.0,258.0 C532.3,260.3 530.6,262.4 529.5,264.0 C528.4,265.6 527.0,266.6 527.3,267.4 C527.6,268.2 528.9,267.7 531.3,268.6 C533.6,269.5 538.0,271.0 541.4,272.6 C544.8,274.2 548.5,276.2 551.4,278.5 C554.2,280.8 556.8,283.5 558.5,286.5 C560.2,289.5 561.3,293.2 561.5,296.6 C561.7,300.0 561.2,303.4 559.5,306.6 C557.8,309.8 554.8,313.6 551.4,315.7 C548.0,317.8 543.8,318.5 539.4,318.9 C535.0,319.3 529.3,318.9 525.3,317.9 C521.3,316.9 517.7,315.2 515.2,312.7 C512.7,310.1 510.9,306.3 510.2,302.6 C509.5,298.9 510.4,294.2 511.2,290.5 C512.0,286.8 513.9,283.4 515.2,280.5 C516.5,277.6 518.1,275.2 519.2,273.4 C520.3,271.6 522.2,270.5 521.8,269.6 C521.4,268.7 519.2,268.8 517.0,268.0 C514.8,267.2 511.2,266.2 508.5,265.0 C505.8,263.8 503.1,262.3 501.0,260.5 C498.9,258.7 497.2,256.4 496.0,254.0 C494.8,251.6 493.9,249.0 493.5,246.0 Z"/></clipPath>
<radialGradient id="g29" cx="0.5" cy="0.5" r="0.5" fx="0.50" fy="0.50"><stop offset="0.000" stop-color="rgb(128,0,0)" stop-opacity="1.00"/><stop offset="0.071" stop-color="rgb(255,41,0)" stop-opacity="1.00"/><stop offset="0.143" stop-color="rgb(255,152,0)" stop-opacity="1.00"/><stop offset="0.214" stop-color="rgb(238,255,9)" stop-opacity="1.00"/><stop offset="0.286" stop-color="rgb(157,255,90)" stop-opacity="1.00"/><stop offset="0.357" stop-color="rgb(90,255,157)" stop-opacity="1.00"/><stop offset="0.429" stop-color="rgb(28,255,219)" stop-opacity="1.00"/><stop offset="0.500" stop-color="rgb(0,200,255)" stop-opacity="1.00"/><stop offset="0.571" stop-color="rgb(0,148,255)" stop-opacity="1.00"/><stop offset="0.643" stop-color="rgb(0,104,255)" stop-opacity="0.89"/><stop offset="0.714" stop-color="rgb(0,72,255)" stop-opacity="0.71"/><stop offset="0.786" stop-color="rgb(0,48,255)" stop-opacity="0.54"/><stop offset="0.857" stop-color="rgb(0,32,255)" stop-opacity="0.36"/><stop offset="0.929" stop-color="rgb(0,24,255)" stop-opacity="0.18"/><stop offset="1.000" stop-color="rgb(0,24,255)" stop-opacity="0.00"/></radialGradient>
<clipPath id="c30"><path d="M596.7,218.7 C596.8,216.8 597.2,214.0 598.4,212.8 C599.6,211.6 602.4,210.6 604.4,210.4 C606.4,210.2 609.9,210.7 611.5,211.6 C613.1,212.5 614.6,214.7 615.0,216.3 C615.4,217.9 615.1,220.7 614.4,222.3 C613.7,223.9 611.2,225.8 610.3,227.0 C609.4,228.2 608.0,229.2 608.5,230.6 C609.0,232.0 612.8,234.6 613.9,236.5 C615.0,238.4 615.8,241.6 615.6,243.6 C615.4,245.6 614.2,248.9 612.7,250.1 C611.2,251.3 607.7,251.9 605.6,251.9 C603.5,251.9 600.3,251.2 599.0,250.1 C597.7,249.0 596.9,246.7 596.7,244.8 C596.5,242.9 597.1,239.7 597.9,237.7 C598.7,235.7 601.4,232.9 602.0,231.7 C602.6,230.5 602.6,230.3 602.0,229.4 C601.4,228.5 598.7,227.4 597.9,225.8 C597.1,224.2 596.6,220.6 596.7,218.7 Z"/></clipPath>
<radialGradient id="g31" cx="0.5" cy="0.5" r="0.5" fx="0.50" fy="0.50"><stop offset="0.000" stop-color="rgb(141,255,106)" stop-opacity="1.00"/><stop offset="0.071" stop-color="rgb(106,255,141)" stop-opacity="1.00"/><stop offset="0.143" stop-color="rgb(73,255,173)" stop-opacity="1.00"/><stop offset="0.214" stop-color="rgb(41,255,206)" stop-opacity="1.00"/><stop offset="0.286" stop-color="rgb(12,244,235)" stop-opacity="1.00"/><stop offset="0.357" stop-color="rgb(0,212,255)" stop-opacity="1.00"/><stop offset="0.429" stop-color="rgb(0,180,255)" stop-opacity="1.00"/><stop offset="0.500" stop-color="rgb(0,148,255)" stop-opacity="1.00"/><stop offset="0.571" stop-color="rgb(0,120,255)" stop-opacity="1.00"/><stop offset="0.643" stop-color="rgb(0,96,255)" stop-opacity="0.89"/><stop offset="0.714" stop-color="rgb(0,76,255)" stop-opacity="0.71"/><stop offset="0.786" stop-color="rgb(0,56,255)" stop-opacity="0.54"/><stop offset="0.857" stop-color="rgb(0,40,255)" stop-opacity="0.36"/><stop offset="0.929" stop-color="rgb(0,28,255)" stop-opacity="0.18"/><stop offset="1.000" stop-color="rgb(0,24,255)" stop-opacity="0.00"/></radialGradient></defs>
<ellipse cx="149.7" cy="89.8" rx="97.3" ry="79.7" fill="none" stroke="#0c0c0c" stroke-width="1.60" />
<ellipse cx="149.7" cy="89.0" rx="95.6" ry="75.2" fill="none" stroke="rgba(20,20,20,0.75)" stroke-width="1.00" />
<ellipse cx="150.3" cy="267.1" rx="97.3" ry="79.0" fill="none" stroke="#0c0c0c" stroke-width="1.60" />
<ellipse cx="150.3" cy="266.3" rx="95.6" ry="74.8" fill="none" stroke="rgba(20,20,20,0.75)" stroke-width="1.00" />
<path d="M158.8,48.4 A32.4,23.6 0 0 0 223.6,48.4 L223.6,56.4 A32.4,23.6 0 0 1 158.8,56.4 Z" fill="rgba(55,50,80,0.5)"/>
<path d="M159.8,48.4 A31.4,22.6 0 0 1 222.6,48.4 L221.4,49.4 A30.2,19.1 0 0 0 161.0,49.4 Z" fill="rgba(215,215,225,0.35)"/>
<path d="M158.8,48.4 A32.4,23.6 0 0 1 223.6,48.4 L223.6,56.4 A32.4,23.6 0 0 1 158.8,56.4 Z" fill="none" stroke="#0c0c14" stroke-width="1.7"/>
<ellipse cx="191.2" cy="48.4" rx="32.4" ry="23.6" fill="none" stroke="#0c0c14" stroke-width="1.50" />
<path d="M160.6,227.5 A31.9,24.2 0 0 0 224.4,227.5 L224.4,235.1 A31.9,24.2 0 0 1 160.6,235.1 Z" fill="rgba(55,50,80,0.5)"/>
<path d="M161.6,227.5 A30.9,23.2 0 0 1 223.4,227.5 L222.2,228.5 A29.7,19.7 0 0 0 162.8,228.5 Z" fill="rgba(215,215,225,0.35)"/>
<path d="M160.6,227.5 A31.9,24.2 0 0 1 224.4,227.5 L224.4,235.1 A31.9,24.2 0 0 1 160.6,235.1 Z" fill="none" stroke="#0c0c14" stroke-width="1.7"/>
<ellipse cx="192.5" cy="227.5" rx="31.9" ry="24.2" fill="none" stroke="#0c0c14" stroke-width="1.50" />
<path d="M184.6,47.6 A8.5,7.1 0 0 0 201.6,47.6 L201.6,50.2 A8.5,7.1 0 0 1 184.6,50.2 Z" fill="#4d6a12"/>
<ellipse cx="193.1" cy="47.6" rx="8.5" ry="7.1" fill="#14e814" stroke="none" stroke-width="1.00" />
<path d="M184.6,88.8 A8.5,7.1 0 0 0 201.6,88.8 L201.6,91.4 A8.5,7.1 0 0 1 184.6,91.4 Z" fill="#4d6a12"/>
<ellipse cx="193.1" cy="88.8" rx="8.5" ry="7.1" fill="#14e814" stroke="none" stroke-width="1.00" />
<path d="M181.8,228.6 A8.5,7.1 0 0 0 198.8,228.6 L198.8,231.2 A8.5,7.1 0 0 1 181.8,231.2 Z" fill="#4d6a12"/>
<ellipse cx="190.3" cy="228.6" rx="8.5" ry="7.1" fill="#14e814" stroke="none" stroke-width="1.00" />
<path d="M102.0,265.2 A8.5,7.1 0 0 0 119.0,265.2 L119.0,267.8 A8.5,7.1 0 0 1 102.0,267.8 Z" fill="#4d6a12"/>
<ellipse cx="110.5" cy="265.2" rx="8.5" ry="7.1" fill="#14e814" stroke="none" stroke-width="1.00" />
<line x1="240.3" y1="176.0" x2="69.2" y2="29.9" stroke="#000" stroke-width="3.2" stroke-linecap="round"/>
<path d="M56.7,19.3 L78.1,25.1 L69.2,29.9 L65.7,39.5 Z" fill="#000"/>
<line x1="58.2" y1="190.2" x2="229.7" y2="336.5" stroke="#000" stroke-width="3.2" stroke-linecap="round"/>
<path d="M242.2,347.1 L220.8,341.4 L229.7,336.5 L233.1,326.9 Z" fill="#000"/>
<ellipse cx="359.7" cy="90.1" rx="96.9" ry="79.5" fill="url(#bd1)" stroke="#0b1113" stroke-width="2.00" />
<ellipse cx="359.7" cy="89.3" rx="95.5" ry="77.1" fill="none" stroke="rgba(190,210,218,0.5)" stroke-width="0.70" stroke-dasharray="0 0"/>
<ellipse cx="359.7" cy="90.1" rx="95.3" ry="74.4" fill="#a7cfd8" stroke="#12262c" stroke-width="1.30" />
<ellipse cx="567.6" cy="90.1" rx="96.9" ry="79.5" fill="url(#bd2)" stroke="#0b1113" stroke-width="2.00" />
<ellipse cx="567.6" cy="89.3" rx="95.5" ry="77.1" fill="none" stroke="rgba(190,210,218,0.5)" stroke-width="0.70" stroke-dasharray="0 0"/>
<ellipse cx="567.6" cy="90.1" rx="95.3" ry="74.4" fill="#a7cfd8" stroke="#12262c" stroke-width="1.30" />
<ellipse cx="359.7" cy="268.4" rx="96.9" ry="79.5" fill="url(#bd3)" stroke="#0b1113" stroke-width="2.00" />
<ellipse cx="359.7" cy="267.6" rx="95.5" ry="77.1" fill="none" stroke="rgba(190,210,218,0.5)" stroke-width="0.70" stroke-dasharray="0 0"/>
<ellipse cx="359.7" cy="268.4" rx="95.3" ry="74.4" fill="#a7cfd8" stroke="#12262c" stroke-width="1.30" />
<ellipse cx="567.6" cy="268.4" rx="96.9" ry="79.5" fill="url(#bd4)" stroke="#0b1113" stroke-width="2.00" />
<ellipse cx="567.6" cy="267.6" rx="95.5" ry="77.1" fill="none" stroke="rgba(190,210,218,0.5)" stroke-width="0.70" stroke-dasharray="0 0"/>
<ellipse cx="567.6" cy="268.4" rx="95.3" ry="74.4" fill="#a7cfd8" stroke="#12262c" stroke-width="1.30" />
<path d="M367.9,48.1 A32.8,24.3 0 0 0 433.6,48.1 L433.6,56.1 A32.8,24.3 0 0 1 367.9,56.1 Z" fill="#c3c7ca"/>
<path d="M369.1,48.1 A31.6,23.3 0 0 1 432.4,48.1 L431.1,49.1 A30.3,18.8 0 0 0 370.4,49.1 Z" fill="#5b7c88"/>
<path d="M576.1,48.1 A33.2,24.3 0 0 0 642.5,48.1 L642.5,56.1 A33.2,24.3 0 0 1 576.1,56.1 Z" fill="#c3c7ca"/>
<path d="M577.3,48.1 A32.0,23.3 0 0 1 641.3,48.1 L640.0,49.1 A30.7,18.8 0 0 0 578.6,49.1 Z" fill="#5b7c88"/>
<path d="M367.2,228.2 A33.4,26.0 0 0 0 434.0,228.2 L434.0,235.2 A33.4,26.0 0 0 1 367.2,235.2 Z" fill="#c3c7ca"/>
<path d="M368.4,228.2 A32.2,25.0 0 0 1 432.8,228.2 L431.5,229.2 A30.9,20.5 0 0 0 369.8,229.2 Z" fill="#5b7c88"/>
<path d="M574.5,228.2 A33.6,26.1 0 0 0 641.7,228.2 L641.7,234.7 A33.6,26.1 0 0 1 574.5,234.7 Z" fill="#c3c7ca"/>
<path d="M575.7,228.2 A32.4,25.1 0 0 1 640.5,228.2 L639.2,229.2 A31.1,20.6 0 0 0 577.0,229.2 Z" fill="#5b7c88"/>
<path d="M355.1,44.1 C355.7,41.9 356.6,39.6 358.1,38.1 C359.6,36.6 362.1,35.5 364.1,35.1 C366.1,34.7 368.5,34.9 370.2,35.7 C371.9,36.5 373.4,37.7 374.2,40.1 C375.0,42.5 375.4,46.9 375.2,50.2 C375.0,53.6 374.4,57.9 373.2,60.2 C372.0,62.6 370.0,63.8 368.2,64.3 C366.4,64.8 364.0,64.3 362.1,63.3 C360.2,62.3 358.4,60.2 357.1,58.2 C355.8,56.2 354.8,53.6 354.5,51.2 C354.2,48.9 354.5,46.3 355.1,44.1 Z" fill="#00128a" transform="translate(0 2.5)"/>
<path d="M355.1,44.1 C355.7,41.9 356.6,39.6 358.1,38.1 C359.6,36.6 362.1,35.5 364.1,35.1 C366.1,34.7 368.5,34.9 370.2,35.7 C371.9,36.5 373.4,37.7 374.2,40.1 C375.0,42.5 375.4,46.9 375.2,50.2 C375.0,53.6 374.4,57.9 373.2,60.2 C372.0,62.6 370.0,63.8 368.2,64.3 C366.4,64.8 364.0,64.3 362.1,63.3 C360.2,62.3 358.4,60.2 357.1,58.2 C355.8,56.2 354.8,53.6 354.5,51.2 C354.2,48.9 354.5,46.3 355.1,44.1 Z" fill="#0a28d8"/>
<g clip-path="url(#c5)">
</g>
<path d="M371.9,43.4 C372.8,42.0 373.6,40.8 375.4,39.9 C377.2,39.0 379.9,38.2 382.5,38.1 C385.1,38.0 388.2,38.7 390.8,39.3 C393.4,39.9 396.1,40.7 397.9,41.6 C399.7,42.5 400.2,44.2 401.5,44.6 C402.8,45.0 404.1,44.2 405.5,43.8 C406.9,43.4 407.9,42.8 409.8,42.2 C411.7,41.6 414.1,40.7 416.9,40.4 C419.7,40.1 424.0,40.1 426.4,40.4 C428.8,40.7 429.9,40.9 431.1,42.2 C432.3,43.5 433.2,45.9 433.5,48.1 C433.8,50.3 433.3,52.9 432.9,55.3 C432.5,57.7 432.2,60.0 431.1,62.4 C430.0,64.8 428.0,67.5 426.4,69.5 C424.8,71.5 423.4,72.8 421.6,74.2 C419.8,75.6 417.5,76.2 415.7,77.8 C413.9,79.4 412.6,81.8 411.0,83.7 C409.4,85.6 407.6,88.0 406.2,89.0 C404.8,90.0 403.9,89.9 402.7,89.6 C401.5,89.3 400.3,88.7 399.1,87.3 C397.9,85.9 397.0,83.5 395.6,81.3 C394.2,79.1 392.8,76.6 390.8,74.2 C388.8,71.8 386.1,69.1 383.7,67.1 C381.3,65.1 378.6,63.8 376.6,62.4 C374.6,61.0 373.0,60.2 371.9,58.8 C370.8,57.4 370.4,55.9 370.1,54.1 C369.8,52.3 369.8,49.9 370.1,48.1 C370.4,46.3 371.0,44.8 371.9,43.4 Z" fill="#00128a" transform="translate(0 2.5)"/>
<path d="M371.9,43.4 C372.8,42.0 373.6,40.8 375.4,39.9 C377.2,39.0 379.9,38.2 382.5,38.1 C385.1,38.0 388.2,38.7 390.8,39.3 C393.4,39.9 396.1,40.7 397.9,41.6 C399.7,42.5 400.2,44.2 401.5,44.6 C402.8,45.0 404.1,44.2 405.5,43.8 C406.9,43.4 407.9,42.8 409.8,42.2 C411.7,41.6 414.1,40.7 416.9,40.4 C419.7,40.1 424.0,40.1 426.4,40.4 C428.8,40.7 429.9,40.9 431.1,42.2 C432.3,43.5 433.2,45.9 433.5,48.1 C433.8,50.3 433.3,52.9 432.9,55.3 C432.5,57.7 432.2,60.0 431.1,62.4 C430.0,64.8 428.0,67.5 426.4,69.5 C424.8,71.5 423.4,72.8 421.6,74.2 C419.8,75.6 417.5,76.2 415.7,77.8 C413.9,79.4 412.6,81.8 411.0,83.7 C409.4,85.6 407.6,88.0 406.2,89.0 C404.8,90.0 403.9,89.9 402.7,89.6 C401.5,89.3 400.3,88.7 399.1,87.3 C397.9,85.9 397.0,83.5 395.6,81.3 C394.2,79.1 392.8,76.6 390.8,74.2 C388.8,71.8 386.1,69.1 383.7,67.1 C381.3,65.1 378.6,63.8 376.6,62.4 C374.6,61.0 373.0,60.2 371.9,58.8 C370.8,57.4 370.4,55.9 370.1,54.1 C369.8,52.3 369.8,49.9 370.1,48.1 C370.4,46.3 371.0,44.8 371.9,43.4 Z" fill="url(#bbase)"/>
<g clip-path="url(#c6)">
<ellipse cx="403.5" cy="68.0" rx="14.0" ry="22.0" fill="url(#g7)" transform="rotate(0.0 403.5 68.0)"/>
<g clip-path="url(#hc9)"><ellipse cx="390.0" cy="48.3" rx="22.0" ry="12.0" fill="url(#g8)" transform="rotate(0.0 390.0 48.3)"/></g>
<g clip-path="url(#hc11)"><ellipse cx="416.0" cy="50.0" rx="22.0" ry="12.0" fill="url(#g10)" transform="rotate(0.0 416.0 50.0)"/></g>
<ellipse cx="403.9" cy="84.9" rx="7.0" ry="8.0" fill="url(#g12)" transform="rotate(0.0 403.9 84.9)"/>
<path d="M371,57.5 C380,59 392,56 401.5,52.5" fill="none" stroke="#0018a0" stroke-width="2.6" stroke-linecap="round" opacity="0.9"/>
<path d="M406,52.5 C414,55 424,58 432,58" fill="none" stroke="#0018a0" stroke-width="2.6" stroke-linecap="round" opacity="0.9"/>
</g>
<path d="M400.4,92.4 C401.6,92.9 403.1,94.5 404.4,96.5 C405.7,98.5 407.6,101.8 408.4,104.5 C409.2,107.2 409.6,109.9 409.4,112.6 C409.2,115.3 408.7,118.3 407.4,120.6 C406.1,122.9 403.8,125.4 401.4,126.6 C399.0,127.8 395.6,128.3 393.3,127.6 C391.0,126.9 388.5,124.8 387.3,122.6 C386.1,120.4 385.7,117.3 385.9,114.6 C386.1,111.9 387.1,109.2 388.3,106.5 C389.5,103.8 391.8,100.7 393.3,98.5 C394.8,96.3 396.1,94.4 397.3,93.4 C398.5,92.4 399.2,91.9 400.4,92.4 Z" fill="#00128a" transform="translate(0 2.5)"/>
<path d="M400.4,92.4 C401.6,92.9 403.1,94.5 404.4,96.5 C405.7,98.5 407.6,101.8 408.4,104.5 C409.2,107.2 409.6,109.9 409.4,112.6 C409.2,115.3 408.7,118.3 407.4,120.6 C406.1,122.9 403.8,125.4 401.4,126.6 C399.0,127.8 395.6,128.3 393.3,127.6 C391.0,126.9 388.5,124.8 387.3,122.6 C386.1,120.4 385.7,117.3 385.9,114.6 C386.1,111.9 387.1,109.2 388.3,106.5 C389.5,103.8 391.8,100.7 393.3,98.5 C394.8,96.3 396.1,94.4 397.3,93.4 C398.5,92.4 399.2,91.9 400.4,92.4 Z" fill="url(#bbase)"/>
<g clip-path="url(#c13)">
<ellipse cx="400.4" cy="94.4" rx="14.0" ry="22.0" fill="url(#g14)" transform="rotate(0.0 400.4 94.4)"/>
</g>
<path d="M587.7,40.2 C587.4,38.3 587.7,34.5 588.3,32.6 C588.9,30.7 589.8,28.7 591.4,27.6 C593.0,26.5 596.5,25.6 599.0,25.1 C601.5,24.6 605.0,24.3 607.8,24.4 C610.6,24.5 615.6,24.8 617.9,25.7 C620.2,26.6 622.0,28.5 622.9,30.1 C623.8,31.7 623.9,34.5 623.6,36.4 C623.3,38.3 622.0,41.1 621.0,42.7 C620.0,44.3 617.5,46.1 616.6,47.1 C615.7,48.1 613.9,48.7 614.7,49.6 C615.5,50.5 619.6,51.8 621.7,52.8 C623.8,53.8 627.3,55.1 628.6,56.6 C629.9,58.1 630.5,61.1 630.5,62.9 C630.5,64.7 629.7,67.2 628.6,68.5 C627.5,69.8 625.1,71.1 622.9,71.7 C620.7,72.3 616.7,72.5 614.1,72.3 C611.5,72.1 607.2,71.4 605.3,70.4 C603.4,69.4 602.2,67.1 601.5,65.4 C600.8,63.7 600.6,60.7 600.9,59.1 C601.2,57.5 602.4,55.8 603.4,54.7 C604.4,53.6 607.9,52.1 607.8,51.5 C607.7,50.9 604.7,51.3 602.8,50.9 C600.9,50.5 597.1,49.9 595.2,49.0 C593.3,48.1 591.3,46.5 590.2,45.2 C589.1,43.9 588.0,42.1 587.7,40.2 Z" fill="#00128a" transform="translate(0 2.5)"/>
<path d="M587.7,40.2 C587.4,38.3 587.7,34.5 588.3,32.6 C588.9,30.7 589.8,28.7 591.4,27.6 C593.0,26.5 596.5,25.6 599.0,25.1 C601.5,24.6 605.0,24.3 607.8,24.4 C610.6,24.5 615.6,24.8 617.9,25.7 C620.2,26.6 622.0,28.5 622.9,30.1 C623.8,31.7 623.9,34.5 623.6,36.4 C623.3,38.3 622.0,41.1 621.0,42.7 C620.0,44.3 617.5,46.1 616.6,47.1 C615.7,48.1 613.9,48.7 614.7,49.6 C615.5,50.5 619.6,51.8 621.7,52.8 C623.8,53.8 627.3,55.1 628.6,56.6 C629.9,58.1 630.5,61.1 630.5,62.9 C630.5,64.7 629.7,67.2 628.6,68.5 C627.5,69.8 625.1,71.1 622.9,71.7 C620.7,72.3 616.7,72.5 614.1,72.3 C611.5,72.1 607.2,71.4 605.3,70.4 C603.4,69.4 602.2,67.1 601.5,65.4 C600.8,63.7 600.6,60.7 600.9,59.1 C601.2,57.5 602.4,55.8 603.4,54.7 C604.4,53.6 607.9,52.1 607.8,51.5 C607.7,50.9 604.7,51.3 602.8,50.9 C600.9,50.5 597.1,49.9 595.2,49.0 C593.3,48.1 591.3,46.5 590.2,45.2 C589.1,43.9 588.0,42.1 587.7,40.2 Z" fill="url(#bbase)"/>
<g clip-path="url(#c15)">
<ellipse cx="611.9" cy="48.0" rx="13.0" ry="21.0" fill="url(#g16)" transform="rotate(20.0 611.9 48.0)"/>
</g>
<path d="M592.2,79.4 C592.5,78.1 592.0,76.3 593.2,75.4 C594.4,74.5 597.3,73.7 600.2,73.4 C603.1,73.1 609.6,73.0 612.3,73.4 C615.0,73.9 617.6,75.1 618.4,76.4 C619.1,77.8 617.9,80.8 617.3,82.4 C616.7,84.1 614.9,86.2 614.3,87.4 C613.7,88.6 611.8,89.4 613.3,90.5 C614.8,91.6 621.4,93.2 624.4,94.5 C627.4,95.8 631.4,97.2 633.4,99.5 C635.4,101.8 637.0,106.9 637.5,109.6 C638.0,112.3 637.6,115.3 636.5,117.6 C635.4,119.9 633.1,123.2 630.4,124.7 C627.7,126.2 622.0,127.5 618.4,127.7 C614.8,127.9 609.0,127.2 606.3,125.7 C603.6,124.2 601.1,120.6 600.2,117.6 C599.3,114.6 599.6,108.8 600.2,105.5 C600.8,102.2 603.2,97.6 604.3,95.5 C605.4,93.4 607.8,92.1 607.3,91.5 C606.8,90.9 603.2,92.0 601.2,91.5 C599.2,91.0 595.7,89.5 594.2,88.4 C592.7,87.3 591.5,85.8 591.2,84.4 C590.9,83.1 591.9,80.8 592.2,79.4 Z" fill="#00128a" transform="translate(0 2.5)"/>
<path d="M592.2,79.4 C592.5,78.1 592.0,76.3 593.2,75.4 C594.4,74.5 597.3,73.7 600.2,73.4 C603.1,73.1 609.6,73.0 612.3,73.4 C615.0,73.9 617.6,75.1 618.4,76.4 C619.1,77.8 617.9,80.8 617.3,82.4 C616.7,84.1 614.9,86.2 614.3,87.4 C613.7,88.6 611.8,89.4 613.3,90.5 C614.8,91.6 621.4,93.2 624.4,94.5 C627.4,95.8 631.4,97.2 633.4,99.5 C635.4,101.8 637.0,106.9 637.5,109.6 C638.0,112.3 637.6,115.3 636.5,117.6 C635.4,119.9 633.1,123.2 630.4,124.7 C627.7,126.2 622.0,127.5 618.4,127.7 C614.8,127.9 609.0,127.2 606.3,125.7 C603.6,124.2 601.1,120.6 600.2,117.6 C599.3,114.6 599.6,108.8 600.2,105.5 C600.8,102.2 603.2,97.6 604.3,95.5 C605.4,93.4 607.8,92.1 607.3,91.5 C606.8,90.9 603.2,92.0 601.2,91.5 C599.2,91.0 595.7,89.5 594.2,88.4 C592.7,87.3 591.5,85.8 591.2,84.4 C590.9,83.1 591.9,80.8 592.2,79.4 Z" fill="url(#bbase)"/>
<g clip-path="url(#c17)">
<ellipse cx="610.3" cy="88.4" rx="12.0" ry="19.0" fill="url(#g18)" transform="rotate(15.0 610.3 88.4)"/>
</g>
<path d="M336.2,224.8 C338.4,225.0 339.7,226.8 340.8,228.5 C341.9,230.2 342.6,232.5 342.6,234.9 C342.6,237.3 342.0,240.4 340.8,243.2 C339.6,246.0 337.2,249.0 335.2,251.5 C333.2,254.0 330.8,256.0 328.8,258.0 C326.8,260.0 324.8,262.1 323.2,263.5 C321.6,264.9 320.7,266.0 319.5,266.3 C318.3,266.6 316.8,266.5 315.8,265.4 C314.8,264.3 313.9,261.9 313.6,259.8 C313.3,257.7 313.5,255.3 314.0,252.5 C314.5,249.7 315.6,246.3 316.8,243.2 C318.0,240.1 319.6,236.6 321.4,234.0 C323.2,231.4 325.3,229.0 327.8,227.5 C330.3,226.0 334.0,224.6 336.2,224.8 Z" fill="#00128a" transform="translate(0 2.5)"/>
<path d="M336.2,224.8 C338.4,225.0 339.7,226.8 340.8,228.5 C341.9,230.2 342.6,232.5 342.6,234.9 C342.6,237.3 342.0,240.4 340.8,243.2 C339.6,246.0 337.2,249.0 335.2,251.5 C333.2,254.0 330.8,256.0 328.8,258.0 C326.8,260.0 324.8,262.1 323.2,263.5 C321.6,264.9 320.7,266.0 319.5,266.3 C318.3,266.6 316.8,266.5 315.8,265.4 C314.8,264.3 313.9,261.9 313.6,259.8 C313.3,257.7 313.5,255.3 314.0,252.5 C314.5,249.7 315.6,246.3 316.8,243.2 C318.0,240.1 319.6,236.6 321.4,234.0 C323.2,231.4 325.3,229.0 327.8,227.5 C330.3,226.0 334.0,224.6 336.2,224.8 Z" fill="url(#bbase)"/>
<g clip-path="url(#c19)">
<ellipse cx="322.0" cy="255.0" rx="18.0" ry="34.0" fill="url(#g20)" transform="rotate(25.0 322.0 255.0)"/>
</g>
<path d="M316.8,269.1 C318.2,269.0 319.3,269.4 320.5,270.9 C321.7,272.4 323.3,275.5 324.2,278.3 C325.1,281.1 325.7,284.1 326.0,287.5 C326.3,290.9 326.5,295.2 326.0,298.6 C325.5,302.0 324.9,305.5 323.2,307.8 C321.5,310.1 318.2,311.7 315.8,312.5 C313.4,313.3 310.6,313.3 308.5,312.5 C306.4,311.7 304.1,310.1 302.9,307.8 C301.7,305.5 301.1,302.0 301.1,298.6 C301.1,295.2 301.8,290.9 302.9,287.5 C304.0,284.1 305.9,280.9 307.5,278.3 C309.1,275.7 310.6,273.3 312.2,271.8 C313.8,270.3 315.4,269.2 316.8,269.1 Z" fill="#00128a" transform="translate(0 2.5)"/>
<path d="M316.8,269.1 C318.2,269.0 319.3,269.4 320.5,270.9 C321.7,272.4 323.3,275.5 324.2,278.3 C325.1,281.1 325.7,284.1 326.0,287.5 C326.3,290.9 326.5,295.2 326.0,298.6 C325.5,302.0 324.9,305.5 323.2,307.8 C321.5,310.1 318.2,311.7 315.8,312.5 C313.4,313.3 310.6,313.3 308.5,312.5 C306.4,311.7 304.1,310.1 302.9,307.8 C301.7,305.5 301.1,302.0 301.1,298.6 C301.1,295.2 301.8,290.9 302.9,287.5 C304.0,284.1 305.9,280.9 307.5,278.3 C309.1,275.7 310.6,273.3 312.2,271.8 C313.8,270.3 315.4,269.2 316.8,269.1 Z" fill="url(#bbase)"/>
<g clip-path="url(#c21)">
<ellipse cx="315.5" cy="278.0" rx="18.0" ry="36.0" fill="url(#g22)" transform="rotate(10.0 315.5 278.0)"/>
</g>
<path d="M385.5,229.4 C386.4,227.6 387.9,225.7 389.6,224.6 C391.3,223.5 393.4,223.0 395.6,222.9 C397.8,222.8 400.4,223.7 403.0,224.0 C405.6,224.3 408.3,224.4 411.0,224.6 C413.7,224.8 416.9,224.4 419.3,225.2 C421.7,226.0 423.9,227.7 425.2,229.4 C426.5,231.1 426.8,233.1 427.0,235.3 C427.2,237.5 426.9,240.2 426.4,242.4 C425.9,244.6 425.4,246.5 424.0,248.3 C422.6,250.1 420.5,251.7 418.1,253.1 C415.7,254.5 412.8,255.6 409.8,256.6 C406.8,257.6 403.1,258.6 400.3,259.0 C397.5,259.4 395.1,259.8 393.2,259.0 C391.3,258.2 390.1,256.1 389.0,254.3 C387.9,252.5 387.4,250.3 386.7,248.3 C386.0,246.3 385.3,244.6 384.9,242.4 C384.5,240.2 384.2,237.5 384.3,235.3 C384.4,233.1 384.6,231.2 385.5,229.4 Z" fill="#00128a" transform="translate(0 3.0)"/>
<path d="M385.5,229.4 C386.4,227.6 387.9,225.7 389.6,224.6 C391.3,223.5 393.4,223.0 395.6,222.9 C397.8,222.8 400.4,223.7 403.0,224.0 C405.6,224.3 408.3,224.4 411.0,224.6 C413.7,224.8 416.9,224.4 419.3,225.2 C421.7,226.0 423.9,227.7 425.2,229.4 C426.5,231.1 426.8,233.1 427.0,235.3 C427.2,237.5 426.9,240.2 426.4,242.4 C425.9,244.6 425.4,246.5 424.0,248.3 C422.6,250.1 420.5,251.7 418.1,253.1 C415.7,254.5 412.8,255.6 409.8,256.6 C406.8,257.6 403.1,258.6 400.3,259.0 C397.5,259.4 395.1,259.8 393.2,259.0 C391.3,258.2 390.1,256.1 389.0,254.3 C387.9,252.5 387.4,250.3 386.7,248.3 C386.0,246.3 385.3,244.6 384.9,242.4 C384.5,240.2 384.2,237.5 384.3,235.3 C384.4,233.1 384.6,231.2 385.5,229.4 Z" fill="url(#bbase)"/>
<g clip-path="url(#c23)">
<ellipse cx="405.5" cy="240.0" rx="23.0" ry="16.5" fill="url(#g24)" transform="rotate(0.0 405.5 240.0)"/>
<ellipse cx="394.4" cy="234.7" rx="7.0" ry="7.0" fill="url(#g25)" transform="rotate(0.0 394.4 234.7)"/>
</g>
<path d="M405.0,211.6 C406.3,210.7 408.7,210.6 409.8,211.0 C410.9,211.4 411.5,212.5 411.6,214.0 C411.7,215.5 411.2,217.9 410.4,219.9 C409.6,221.9 407.9,224.2 406.8,225.8 C405.7,227.4 404.9,229.0 403.9,229.4 C402.9,229.8 401.5,229.2 400.9,228.2 C400.3,227.2 400.1,225.4 400.3,223.4 C400.5,221.4 401.3,218.3 402.1,216.3 C402.9,214.3 403.7,212.5 405.0,211.6 Z" fill="#00128a" transform="translate(0 2.5)"/>
<path d="M405.0,211.6 C406.3,210.7 408.7,210.6 409.8,211.0 C410.9,211.4 411.5,212.5 411.6,214.0 C411.7,215.5 411.2,217.9 410.4,219.9 C409.6,221.9 407.9,224.2 406.8,225.8 C405.7,227.4 404.9,229.0 403.9,229.4 C402.9,229.8 401.5,229.2 400.9,228.2 C400.3,227.2 400.1,225.4 400.3,223.4 C400.5,221.4 401.3,218.3 402.1,216.3 C402.9,214.3 403.7,212.5 405.0,211.6 Z" fill="url(#bbase)"/>
<g clip-path="url(#c26)">
<ellipse cx="402.3" cy="224.0" rx="10.0" ry="12.0" fill="url(#g27)" transform="rotate(0.0 402.3 224.0)"/>
</g>
<path d="M493.5,246.0 C493.1,243.0 492.8,239.0 493.3,236.0 C493.8,233.0 494.9,230.2 496.5,228.0 C498.1,225.8 500.4,223.9 503.0,222.5 C505.6,221.1 508.8,220.3 512.0,219.8 C515.2,219.3 518.7,219.2 522.0,219.3 C525.3,219.4 529.1,219.6 532.0,220.5 C534.9,221.4 537.6,222.7 539.5,224.5 C541.4,226.3 542.7,228.8 543.3,231.5 C543.9,234.2 543.6,237.4 543.0,240.5 C542.4,243.6 541.0,247.1 539.5,250.0 C538.0,252.9 535.7,255.7 534.0,258.0 C532.3,260.3 530.6,262.4 529.5,264.0 C528.4,265.6 527.0,266.6 527.3,267.4 C527.6,268.2 528.9,267.7 531.3,268.6 C533.6,269.5 538.0,271.0 541.4,272.6 C544.8,274.2 548.5,276.2 551.4,278.5 C554.2,280.8 556.8,283.5 558.5,286.5 C560.2,289.5 561.3,293.2 561.5,296.6 C561.7,300.0 561.2,303.4 559.5,306.6 C557.8,309.8 554.8,313.6 551.4,315.7 C548.0,317.8 543.8,318.5 539.4,318.9 C535.0,319.3 529.3,318.9 525.3,317.9 C521.3,316.9 517.7,315.2 515.2,312.7 C512.7,310.1 510.9,306.3 510.2,302.6 C509.5,298.9 510.4,294.2 511.2,290.5 C512.0,286.8 513.9,283.4 515.2,280.5 C516.5,277.6 518.1,275.2 519.2,273.4 C520.3,271.6 522.2,270.5 521.8,269.6 C521.4,268.7 519.2,268.8 517.0,268.0 C514.8,267.2 511.2,266.2 508.5,265.0 C505.8,263.8 503.1,262.3 501.0,260.5 C498.9,258.7 497.2,256.4 496.0,254.0 C494.8,251.6 493.9,249.0 493.5,246.0 Z" fill="#00128a" transform="translate(0 3.0)"/>
<path d="M493.5,246.0 C493.1,243.0 492.8,239.0 493.3,236.0 C493.8,233.0 494.9,230.2 496.5,228.0 C498.1,225.8 500.4,223.9 503.0,222.5 C505.6,221.1 508.8,220.3 512.0,219.8 C515.2,219.3 518.7,219.2 522.0,219.3 C525.3,219.4 529.1,219.6 532.0,220.5 C534.9,221.4 537.6,222.7 539.5,224.5 C541.4,226.3 542.7,228.8 543.3,231.5 C543.9,234.2 543.6,237.4 543.0,240.5 C542.4,243.6 541.0,247.1 539.5,250.0 C538.0,252.9 535.7,255.7 534.0,258.0 C532.3,260.3 530.6,262.4 529.5,264.0 C528.4,265.6 527.0,266.6 527.3,267.4 C527.6,268.2 528.9,267.7 531.3,268.6 C533.6,269.5 538.0,271.0 541.4,272.6 C544.8,274.2 548.5,276.2 551.4,278.5 C554.2,280.8 556.8,283.5 558.5,286.5 C560.2,289.5 561.3,293.2 561.5,296.6 C561.7,300.0 561.2,303.4 559.5,306.6 C557.8,309.8 554.8,313.6 551.4,315.7 C548.0,317.8 543.8,318.5 539.4,318.9 C535.0,319.3 529.3,318.9 525.3,317.9 C521.3,316.9 517.7,315.2 515.2,312.7 C512.7,310.1 510.9,306.3 510.2,302.6 C509.5,298.9 510.4,294.2 511.2,290.5 C512.0,286.8 513.9,283.4 515.2,280.5 C516.5,277.6 518.1,275.2 519.2,273.4 C520.3,271.6 522.2,270.5 521.8,269.6 C521.4,268.7 519.2,268.8 517.0,268.0 C514.8,267.2 511.2,266.2 508.5,265.0 C505.8,263.8 503.1,262.3 501.0,260.5 C498.9,258.7 497.2,256.4 496.0,254.0 C494.8,251.6 493.9,249.0 493.5,246.0 Z" fill="url(#bbase)"/>
<g clip-path="url(#c28)">
<ellipse cx="525.3" cy="266.4" rx="22.0" ry="36.0" fill="url(#g29)" transform="rotate(-28.0 525.3 266.4)"/>
</g>
<path d="M596.7,218.7 C596.8,216.8 597.2,214.0 598.4,212.8 C599.6,211.6 602.4,210.6 604.4,210.4 C606.4,210.2 609.9,210.7 611.5,211.6 C613.1,212.5 614.6,214.7 615.0,216.3 C615.4,217.9 615.1,220.7 614.4,222.3 C613.7,223.9 611.2,225.8 610.3,227.0 C609.4,228.2 608.0,229.2 608.5,230.6 C609.0,232.0 612.8,234.6 613.9,236.5 C615.0,238.4 615.8,241.6 615.6,243.6 C615.4,245.6 614.2,248.9 612.7,250.1 C611.2,251.3 607.7,251.9 605.6,251.9 C603.5,251.9 600.3,251.2 599.0,250.1 C597.7,249.0 596.9,246.7 596.7,244.8 C596.5,242.9 597.1,239.7 597.9,237.7 C598.7,235.7 601.4,232.9 602.0,231.7 C602.6,230.5 602.6,230.3 602.0,229.4 C601.4,228.5 598.7,227.4 597.9,225.8 C597.1,224.2 596.6,220.6 596.7,218.7 Z" fill="#00128a" transform="translate(0 2.5)"/>
<path d="M596.7,218.7 C596.8,216.8 597.2,214.0 598.4,212.8 C599.6,211.6 602.4,210.6 604.4,210.4 C606.4,210.2 609.9,210.7 611.5,211.6 C613.1,212.5 614.6,214.7 615.0,216.3 C615.4,217.9 615.1,220.7 614.4,222.3 C613.7,223.9 611.2,225.8 610.3,227.0 C609.4,228.2 608.0,229.2 608.5,230.6 C609.0,232.0 612.8,234.6 613.9,236.5 C615.0,238.4 615.8,241.6 615.6,243.6 C615.4,245.6 614.2,248.9 612.7,250.1 C611.2,251.3 607.7,251.9 605.6,251.9 C603.5,251.9 600.3,251.2 599.0,250.1 C597.7,249.0 596.9,246.7 596.7,244.8 C596.5,242.9 597.1,239.7 597.9,237.7 C598.7,235.7 601.4,232.9 602.0,231.7 C602.6,230.5 602.6,230.3 602.0,229.4 C601.4,228.5 598.7,227.4 597.9,225.8 C597.1,224.2 596.6,220.6 596.7,218.7 Z" fill="url(#bbase)"/>
<g clip-path="url(#c30)">
<ellipse cx="605.3" cy="229.4" rx="9.0" ry="15.0" fill="url(#g31)" transform="rotate(0.0 605.3 229.4)"/>
</g>
<path d="M367.9,48.1 A32.8,24.3 0 0 1 433.6,48.1 L433.6,56.1 A32.8,24.3 0 0 1 367.9,56.1 Z" fill="none" stroke="#111" stroke-width="1.6"/>
<ellipse cx="400.8" cy="48.1" rx="32.8" ry="24.3" fill="none" stroke="#111" stroke-width="1.40" />
<path d="M576.1,48.1 A33.2,24.3 0 0 1 642.5,48.1 L642.5,56.1 A33.2,24.3 0 0 1 576.1,56.1 Z" fill="none" stroke="#111" stroke-width="1.6"/>
<ellipse cx="609.3" cy="48.1" rx="33.2" ry="24.3" fill="none" stroke="#111" stroke-width="1.40" />
<path d="M367.2,228.2 A33.4,26.0 0 0 1 434.0,228.2 L434.0,235.2 A33.4,26.0 0 0 1 367.2,235.2 Z" fill="none" stroke="#111" stroke-width="1.6"/>
<ellipse cx="400.6" cy="228.2" rx="33.4" ry="26.0" fill="none" stroke="#111" stroke-width="1.40" />
<path d="M574.5,228.2 A33.6,26.1 0 0 1 641.7,228.2 L641.7,234.7 A33.6,26.1 0 0 1 574.5,234.7 Z" fill="none" stroke="#111" stroke-width="1.6"/>
<ellipse cx="608.1" cy="228.2" rx="33.6" ry="26.1" fill="none" stroke="#111" stroke-width="1.40" />
<text x="14.8" y="16.7" font-family="Liberation Sans, sans-serif" font-size="22.2" font-weight="bold" font-style="normal" text-anchor="start" >+200 Oe</text>
<text x="1.8" y="51.8" font-family="Liberation Sans, sans-serif" font-size="25.5" font-weight="bold" font-style="normal" text-anchor="start" letter-spacing="0.9">(a)</text>
<text x="1.8" y="207.2" font-family="Liberation Sans, sans-serif" font-size="25.5" font-weight="bold" font-style="normal" text-anchor="start" letter-spacing="0.9">(b)</text>
<text x="203.2" y="367.2" font-family="Liberation Sans, sans-serif" font-size="22.2" font-weight="bold" font-style="normal" text-anchor="start" >-200 Oe</text>
<text transform="translate(259.0 27.2) scale(1.12 1)" font-family="Liberation Sans, sans-serif" font-size="22.5" font-weight="bold">f</text><text x="267.4" y="27.2" font-family="Liberation Sans, sans-serif" font-size="18.0">1+</text>
<text transform="translate(469.0 27.2) scale(1.12 1)" font-family="Liberation Sans, sans-serif" font-size="22.5" font-weight="bold">f</text><text x="477.4" y="27.2" font-family="Liberation Sans, sans-serif" font-size="18.0">2+</text>
<text transform="translate(260.0 204.5) scale(1.12 1)" font-family="Liberation Sans, sans-serif" font-size="22.5" font-weight="bold">f</text><text x="268.4" y="204.5" font-family="Liberation Sans, sans-serif" font-size="18.0">1-</text>
<text transform="translate(467.0 204.0) scale(1.12 1)" font-family="Liberation Sans, sans-serif" font-size="22.5" font-weight="bold">f</text><text x="475.4" y="204.0" font-family="Liberation Sans, sans-serif" font-size="18.0">2-</text>
<line x1="164.8" y1="535.7" x2="164.8" y2="526.2" stroke="#000" stroke-width="2.2"/>
<line x1="164.8" y1="374.5" x2="164.8" y2="384.0" stroke="#000" stroke-width="2.2"/>
<line x1="273.3" y1="535.7" x2="273.3" y2="529.7" stroke="#000" stroke-width="2.2"/>
<line x1="273.3" y1="374.5" x2="273.3" y2="380.5" stroke="#000" stroke-width="2.2"/>
<line x1="381.8" y1="535.7" x2="381.8" y2="526.2" stroke="#000" stroke-width="2.2"/>
<line x1="381.8" y1="374.5" x2="381.8" y2="384.0" stroke="#000" stroke-width="2.2"/>
<line x1="490.3" y1="535.7" x2="490.3" y2="529.7" stroke="#000" stroke-width="2.2"/>
<line x1="490.3" y1="374.5" x2="490.3" y2="380.5" stroke="#000" stroke-width="2.2"/>
<line x1="598.8" y1="535.7" x2="598.8" y2="526.2" stroke="#000" stroke-width="2.2"/>
<line x1="598.8" y1="374.5" x2="598.8" y2="384.0" stroke="#000" stroke-width="2.2"/>
<line x1="92.5" y1="530.7" x2="102.0" y2="530.7" stroke="#000" stroke-width="2.2"/>
<line x1="671.5" y1="530.7" x2="662.0" y2="530.7" stroke="#000" stroke-width="2.2"/>
<line x1="92.5" y1="491.6" x2="98.5" y2="491.6" stroke="#000" stroke-width="2.2"/>
<line x1="671.5" y1="491.6" x2="665.5" y2="491.6" stroke="#000" stroke-width="2.2"/>
<line x1="92.5" y1="452.6" x2="102.0" y2="452.6" stroke="#000" stroke-width="2.2"/>
<line x1="671.5" y1="452.6" x2="662.0" y2="452.6" stroke="#000" stroke-width="2.2"/>
<line x1="92.5" y1="413.5" x2="98.5" y2="413.5" stroke="#000" stroke-width="2.2"/>
<line x1="671.5" y1="413.5" x2="665.5" y2="413.5" stroke="#000" stroke-width="2.2"/>
<path d="M92.5,527.6 L93.9,527.5 L95.4,527.4 L96.8,527.3 L98.3,527.3 L99.7,527.2 L101.2,527.2 L102.6,527.1 L104.1,527.1 L105.5,527.1 L107.0,527.0 L108.4,527.0 L109.9,527.0 L111.3,526.9 L112.8,526.9 L114.2,526.8 L115.7,526.8 L117.1,526.7 L118.6,526.6 L120.0,526.5 L121.5,526.4 L122.9,526.2 L124.4,526.1 L125.8,525.9 L127.3,525.7 L128.7,525.4 L130.2,525.1 L131.6,524.8 L133.1,524.5 L134.5,524.1 L136.0,523.7 L137.4,523.3 L138.9,522.8 L140.3,522.2 L141.8,521.6 L143.2,521.0 L144.7,520.3 L146.1,519.6 L147.6,518.8 L149.0,518.0 L150.5,517.1 L151.9,516.1 L153.4,515.1 L154.8,514.1 L156.3,512.9 L157.7,511.7 L159.2,510.4 L160.6,509.1 L162.1,507.7 L163.5,506.2 L165.0,504.6 L166.4,503.0 L167.9,501.2 L169.3,499.4 L170.8,497.6 L172.2,495.6 L173.7,493.5 L175.1,491.4 L176.6,489.1 L178.0,486.8 L179.5,484.3 L180.9,481.8 L182.4,479.2 L183.8,476.5 L185.3,473.6 L186.7,470.7 L188.2,467.7 L189.6,464.7 L191.1,461.8 L192.5,459.1 L194.0,456.6 L195.4,454.4 L196.9,452.4 L198.3,450.2 L199.8,447.4 L201.2,443.9 L202.7,439.7 L204.1,435.4 L205.6,431.6 L207.0,428.6 L208.5,426.3 L209.9,424.6 L211.4,423.4 L212.8,422.6 L214.3,422.0 L215.7,421.8 L217.2,421.8 L218.6,422.1 L220.1,422.7 L221.5,423.5 L223.0,424.7 L224.4,426.1 L225.9,427.9 L227.3,430.0 L228.8,432.5 L230.2,435.3 L231.7,438.4 L233.1,441.7 L234.6,445.2 L236.0,448.9 L237.5,452.6 L238.9,456.4 L240.4,460.2 L241.8,464.0 L243.3,467.7 L244.7,471.2 L246.2,474.6 L247.6,477.7 L249.1,480.6 L250.5,483.3 L252.0,485.7 L253.4,488.0 L254.9,490.0 L256.3,491.9 L257.8,493.6 L259.2,495.1 L260.7,496.5 L262.1,497.8 L263.6,499.0 L265.0,500.0 L266.5,501.0 L267.9,501.8 L269.4,502.6 L270.8,503.3 L272.3,504.0 L273.7,504.7 L275.2,505.3 L276.6,505.9 L278.1,506.5 L279.5,507.1 L281.0,507.6 L282.4,508.2 L283.9,508.7 L285.3,509.1 L286.8,509.6 L288.2,510.0 L289.7,510.4 L291.1,510.8 L292.6,511.2 L294.0,511.5 L295.5,511.8 L296.9,512.1 L298.4,512.3 L299.8,512.5 L301.3,512.7 L302.7,512.9 L304.2,513.1 L305.6,513.2 L307.1,513.3 L308.5,513.3 L310.0,513.3 L311.4,513.3 L312.9,513.3 L314.3,513.2 L315.8,513.1 L317.2,513.0 L318.7,512.8 L320.1,512.6 L321.6,512.4 L323.0,512.1 L324.5,511.8 L325.9,511.5 L327.4,511.1 L328.8,510.7 L330.3,510.3 L331.7,509.8 L333.2,509.3 L334.6,508.7 L336.1,508.1 L337.5,507.5 L339.0,506.8 L340.4,506.1 L341.9,505.4 L343.3,504.6 L344.8,503.8 L346.2,502.9 L347.7,502.0 L349.1,501.1 L350.6,500.1 L352.0,499.1 L353.5,498.1 L354.9,497.1 L356.4,496.1 L357.8,495.1 L359.3,494.1 L360.7,493.1 L362.2,492.2 L363.6,491.3 L365.1,490.4 L366.5,489.6 L368.0,488.9 L369.4,488.2 L370.9,487.7 L372.3,487.2 L373.8,486.7 L375.2,486.4 L376.7,486.2 L378.1,486.1 L379.6,486.2 L381.0,486.3 L382.5,486.6 L383.9,486.9 L385.4,487.4 L386.8,487.9 L388.3,488.6 L389.7,489.2 L391.2,490.0 L392.6,490.8 L394.1,491.6 L395.5,492.5 L397.0,493.3 L398.4,494.3 L399.9,495.2 L401.3,496.1 L402.8,497.1 L404.2,498.0 L405.7,499.0 L407.1,500.0 L408.6,500.9 L410.0,501.9 L411.5,502.8 L412.9,503.7 L414.4,504.6 L415.8,505.5 L417.3,506.4 L418.7,507.2 L420.2,508.0 L421.6,508.8 L423.1,509.5 L424.5,510.2 L426.0,510.9 L427.4,511.5 L428.9,512.1 L430.3,512.6 L431.8,513.1 L433.2,513.6 L434.7,514.1 L436.1,514.5 L437.6,515.0 L439.0,515.3 L440.5,515.7 L441.9,516.1 L443.4,516.4 L444.8,516.7 L446.3,517.0 L447.7,517.3 L449.2,517.6 L450.6,517.9 L452.1,518.2 L453.5,518.4 L455.0,518.7 L456.4,518.9 L457.9,519.2 L459.3,519.4 L460.8,519.6 L462.2,519.9 L463.7,520.1 L465.1,520.3 L466.6,520.5 L468.0,520.7 L469.5,520.9 L470.9,521.1 L472.4,521.3 L473.8,521.5 L475.3,521.7 L476.7,521.9 L478.2,522.1 L479.6,522.3 L481.1,522.4 L482.5,522.6 L484.0,522.8 L485.4,522.9 L486.9,523.1 L488.3,523.2 L489.8,523.4 L491.2,523.5 L492.7,523.7 L494.1,523.8 L495.6,523.9 L497.0,524.1 L498.5,524.2 L499.9,524.3 L501.4,524.4 L502.8,524.6 L504.3,524.7 L505.7,524.8 L507.2,524.9 L508.6,525.0 L510.1,525.1 L511.5,525.2 L513.0,525.3 L514.4,525.4 L515.9,525.5 L517.3,525.5 L518.8,525.6 L520.2,525.7 L521.7,525.8 L523.1,525.9 L524.6,525.9 L526.0,526.0 L527.5,526.1 L528.9,526.1 L530.4,526.2 L531.8,526.2 L533.3,526.3 L534.7,526.4 L536.2,526.4 L537.6,526.5 L539.1,526.5 L540.5,526.6 L542.0,526.6 L543.4,526.6 L544.9,526.7 L546.3,526.7 L547.8,526.8 L549.2,526.8 L550.7,526.8 L552.1,526.8 L553.6,526.9 L555.0,526.9 L556.5,526.9 L557.9,526.9 L559.4,527.0 L560.8,527.0 L562.3,527.0 L563.7,527.0 L565.2,527.0 L566.6,527.1 L568.1,527.1 L569.5,527.1 L571.0,527.1 L572.4,527.1 L573.9,527.1 L575.3,527.1 L576.8,527.1 L578.2,527.1 L579.7,527.1 L581.1,527.1 L582.6,527.2 L584.0,527.2 L585.5,527.2 L586.9,527.2 L588.4,527.2 L589.8,527.2 L591.3,527.2 L592.7,527.2 L594.2,527.2 L595.6,527.2 L597.1,527.2 L598.5,527.2 L600.0,527.2 L601.4,527.1 L602.9,527.1 L604.3,527.1 L605.8,527.1 L607.2,527.1 L608.7,527.1 L610.1,527.1 L611.6,527.1 L613.0,527.1 L614.5,527.1 L615.9,527.1 L617.4,527.1 L618.8,527.1 L620.3,527.1 L621.7,527.1 L623.2,527.1 L624.6,527.1 L626.1,527.1 L627.5,527.1 L629.0,527.1 L630.4,527.1 L631.9,527.1 L633.3,527.2 L634.8,527.2 L636.2,527.2 L637.7,527.2 L639.1,527.2 L640.6,527.2 L642.0,527.2 L643.5,527.2 L644.9,527.2 L646.4,527.3 L647.8,527.3 L649.3,527.3 L650.7,527.3 L652.2,527.3 L653.6,527.4 L655.1,527.4 L656.5,527.4 L658.0,527.4 L659.4,527.5 L660.9,527.5 L662.3,527.5 L663.8,527.6 L665.2,527.6 L666.7,527.6 L668.1,527.7 L669.6,527.7 L671.0,527.8" fill="none" stroke="#000" stroke-width="1.6" stroke-linejoin="round"/>
<path d="M92.5,527.4 L93.9,527.3 L95.4,527.2 L96.8,527.2 L98.3,527.1 L99.7,527.0 L101.2,526.9 L102.6,526.9 L104.1,526.8 L105.5,526.7 L107.0,526.6 L108.4,526.5 L109.9,526.5 L111.3,526.4 L112.8,526.3 L114.2,526.1 L115.7,526.0 L117.1,525.9 L118.6,525.8 L120.0,525.6 L121.5,525.5 L122.9,525.3 L124.4,525.1 L125.8,524.9 L127.3,524.7 L128.7,524.5 L130.2,524.2 L131.6,524.0 L133.1,523.7 L134.5,523.4 L136.0,523.1 L137.4,522.7 L138.9,522.3 L140.3,522.0 L141.8,521.6 L143.2,521.1 L144.7,520.6 L146.1,520.1 L147.6,519.5 L149.0,518.9 L150.5,518.2 L151.9,517.4 L153.4,516.6 L154.8,515.7 L156.3,514.6 L157.7,513.5 L159.2,512.3 L160.6,511.0 L162.1,509.6 L163.5,508.0 L165.0,506.3 L166.4,504.5 L167.9,502.6 L169.3,500.4 L170.8,498.2 L172.2,495.8 L173.7,493.2 L175.1,490.5 L176.6,487.7 L178.0,484.9 L179.5,482.0 L180.9,479.1 L182.4,476.2 L183.8,473.3 L185.3,470.6 L186.7,467.9 L188.2,465.3 L189.6,462.9 L191.1,460.7 L192.5,458.8 L194.0,457.0 L195.4,455.5 L196.9,454.3 L198.3,453.4 L199.8,452.7 L201.2,452.3 L202.7,452.2 L204.1,452.3 L205.6,452.7 L207.0,453.3 L208.5,454.2 L209.9,455.4 L211.4,456.7 L212.8,458.3 L214.3,460.0 L215.7,461.9 L217.2,463.8 L218.6,465.8 L220.1,467.8 L221.5,469.9 L223.0,472.0 L224.4,474.1 L225.9,476.2 L227.3,478.4 L228.8,480.5 L230.2,482.6 L231.7,484.7 L233.1,486.8 L234.6,488.8 L236.0,490.8 L237.5,492.7 L238.9,494.6 L240.4,496.4 L241.8,498.2 L243.3,499.8 L244.7,501.4 L246.2,502.9 L247.6,504.2 L249.1,505.5 L250.5,506.7 L252.0,507.8 L253.4,508.9 L254.9,509.8 L256.3,510.7 L257.8,511.5 L259.2,512.2 L260.7,512.9 L262.1,513.5 L263.6,514.1 L265.0,514.6 L266.5,515.1 L267.9,515.5 L269.4,515.9 L270.8,516.2 L272.3,516.5 L273.7,516.8 L275.2,517.0 L276.6,517.2 L278.1,517.5 L279.5,517.6 L281.0,517.8 L282.4,518.0 L283.9,518.1 L285.3,518.3 L286.8,518.5 L288.2,518.6 L289.7,518.8 L291.1,519.0 L292.6,519.1 L294.0,519.3 L295.5,519.4 L296.9,519.6 L298.4,519.8 L299.8,519.9 L301.3,520.1 L302.7,520.2 L304.2,520.4 L305.6,520.5 L307.1,520.6 L308.5,520.8 L310.0,520.9 L311.4,521.0 L312.9,521.1 L314.3,521.2 L315.8,521.3 L317.2,521.4 L318.7,521.4 L320.1,521.5 L321.6,521.5 L323.0,521.6 L324.5,521.6 L325.9,521.6 L327.4,521.6 L328.8,521.6 L330.3,521.6 L331.7,521.5 L333.2,521.5 L334.6,521.4 L336.1,521.3 L337.5,521.2 L339.0,521.0 L340.4,520.9 L341.9,520.7 L343.3,520.5 L344.8,520.3 L346.2,520.1 L347.7,519.9 L349.1,519.6 L350.6,519.3 L352.0,519.0 L353.5,518.6 L354.9,518.3 L356.4,517.9 L357.8,517.5 L359.3,517.1 L360.7,516.6 L362.2,516.1 L363.6,515.6 L365.1,515.1 L366.5,514.5 L368.0,513.9 L369.4,513.3 L370.9,512.6 L372.3,511.9 L373.8,511.2 L375.2,510.4 L376.7,509.7 L378.1,508.8 L379.6,508.0 L381.0,507.1 L382.5,506.2 L383.9,505.2 L385.4,504.2 L386.8,503.2 L388.3,502.2 L389.7,501.1 L391.2,500.0 L392.6,498.8 L394.1,497.6 L395.5,496.5 L397.0,495.3 L398.4,494.1 L399.9,492.9 L401.3,491.7 L402.8,490.4 L404.2,489.2 L405.7,488.1 L407.1,486.9 L408.6,485.7 L410.0,484.6 L411.5,483.5 L412.9,482.5 L414.4,481.5 L415.8,480.6 L417.3,479.8 L418.7,479.1 L420.2,478.5 L421.6,477.9 L423.1,477.5 L424.5,477.3 L426.0,477.1 L427.4,477.2 L428.9,477.3 L430.3,477.7 L431.8,478.1 L433.2,478.7 L434.7,479.5 L436.1,480.3 L437.6,481.2 L439.0,482.2 L440.5,483.3 L441.9,484.4 L443.4,485.6 L444.8,486.8 L446.3,488.1 L447.7,489.3 L449.2,490.5 L450.6,491.8 L452.1,492.9 L453.5,494.1 L455.0,495.2 L456.4,496.2 L457.9,497.2 L459.3,498.1 L460.8,499.0 L462.2,499.9 L463.7,500.7 L465.1,501.5 L466.6,502.2 L468.0,503.0 L469.5,503.7 L470.9,504.4 L472.4,505.0 L473.8,505.7 L475.3,506.4 L476.7,507.0 L478.2,507.7 L479.6,508.3 L481.1,509.0 L482.5,509.6 L484.0,510.3 L485.4,510.9 L486.9,511.6 L488.3,512.2 L489.8,512.9 L491.2,513.5 L492.7,514.2 L494.1,514.8 L495.6,515.5 L497.0,516.1 L498.5,516.8 L499.9,517.4 L501.4,518.0 L502.8,518.7 L504.3,519.3 L505.7,519.9 L507.2,520.4 L508.6,521.0 L510.1,521.6 L511.5,522.1 L513.0,522.6 L514.4,523.1 L515.9,523.6 L517.3,524.0 L518.8,524.4 L520.2,524.8 L521.7,525.2 L523.1,525.5 L524.6,525.8 L526.0,526.1 L527.5,526.4 L528.9,526.6 L530.4,526.8 L531.8,527.0 L533.3,527.2 L534.7,527.3 L536.2,527.4 L537.6,527.6 L539.1,527.7 L540.5,527.7 L542.0,527.8 L543.4,527.8 L544.9,527.9 L546.3,527.9 L547.8,527.9 L549.2,527.9 L550.7,527.9 L552.1,527.9 L553.6,527.9 L555.0,527.9 L556.5,527.9 L557.9,527.9 L559.4,527.9 L560.8,527.9 L562.3,527.8 L563.7,527.8 L565.2,527.8 L566.6,527.8 L568.1,527.8 L569.5,527.8 L571.0,527.8 L572.4,527.8 L573.9,527.8 L575.3,527.8 L576.8,527.8 L578.2,527.8 L579.7,527.8 L581.1,527.8 L582.6,527.8 L584.0,527.8 L585.5,527.8 L586.9,527.8 L588.4,527.8 L589.8,527.8 L591.3,527.8 L592.7,527.9 L594.2,527.9 L595.6,527.9 L597.1,527.9 L598.5,527.9 L600.0,527.9 L601.4,527.9 L602.9,527.9 L604.3,527.9 L605.8,528.0 L607.2,528.0 L608.7,528.0 L610.1,528.0 L611.6,528.0 L613.0,528.0 L614.5,528.0 L615.9,528.1 L617.4,528.1 L618.8,528.1 L620.3,528.1 L621.7,528.1 L623.2,528.1 L624.6,528.2 L626.1,528.2 L627.5,528.2 L629.0,528.2 L630.4,528.2 L631.9,528.2 L633.3,528.2 L634.8,528.2 L636.2,528.3 L637.7,528.3 L639.1,528.3 L640.6,528.3 L642.0,528.3 L643.5,528.3 L644.9,528.3 L646.4,528.3 L647.8,528.3 L649.3,528.3 L650.7,528.3 L652.2,528.3 L653.6,528.3 L655.1,528.3 L656.5,528.3 L658.0,528.3 L659.4,528.3 L660.9,528.3 L662.3,528.3 L663.8,528.3 L665.2,528.3 L666.7,528.3 L668.1,528.3 L669.6,528.3 L671.0,528.3" fill="none" stroke="#0a0ae6" stroke-width="3" stroke-linejoin="round"/>
<path d="M92.5,529.0 L93.9,529.0 L95.4,528.9 L96.8,528.9 L98.3,528.8 L99.7,528.8 L101.2,528.8 L102.6,528.7 L104.1,528.7 L105.5,528.6 L107.0,528.6 L108.4,528.5 L109.9,528.5 L111.3,528.4 L112.8,528.4 L114.2,528.3 L115.7,528.3 L117.1,528.2 L118.6,528.1 L120.0,528.1 L121.5,528.0 L122.9,527.9 L124.4,527.9 L125.8,527.8 L127.3,527.7 L128.7,527.6 L130.2,527.6 L131.6,527.5 L133.1,527.4 L134.5,527.3 L136.0,527.2 L137.4,527.1 L138.9,527.0 L140.3,526.8 L141.8,526.7 L143.2,526.6 L144.7,526.5 L146.1,526.3 L147.6,526.2 L149.0,526.0 L150.5,525.9 L151.9,525.7 L153.4,525.5 L154.8,525.3 L156.3,525.1 L157.7,525.0 L159.2,524.8 L160.6,524.5 L162.1,524.3 L163.5,524.1 L165.0,523.9 L166.4,523.6 L167.9,523.4 L169.3,523.1 L170.8,522.8 L172.2,522.5 L173.7,522.3 L175.1,522.0 L176.6,521.6 L178.0,521.3 L179.5,521.0 L180.9,520.7 L182.4,520.3 L183.8,519.9 L185.3,519.6 L186.7,519.2 L188.2,518.8 L189.6,518.4 L191.1,517.9 L192.5,517.5 L194.0,517.0 L195.4,516.4 L196.9,515.9 L198.3,515.3 L199.8,514.6 L201.2,513.9 L202.7,513.2 L204.1,512.4 L205.6,511.5 L207.0,510.6 L208.5,509.6 L209.9,508.5 L211.4,507.3 L212.8,506.1 L214.3,504.8 L215.7,503.4 L217.2,501.9 L218.6,500.3 L220.1,498.6 L221.5,496.8 L223.0,494.9 L224.4,492.9 L225.9,490.8 L227.3,488.6 L228.8,486.2 L230.2,483.7 L231.7,481.2 L233.1,478.6 L234.6,476.0 L236.0,473.5 L237.5,471.0 L238.9,468.7 L240.4,466.4 L241.8,464.3 L243.3,462.2 L244.7,460.2 L246.2,458.2 L247.6,456.2 L249.1,454.2 L250.5,452.1 L252.0,450.0 L253.4,447.7 L254.9,445.5 L256.3,443.2 L257.8,441.0 L259.2,438.9 L260.7,436.8 L262.1,435.0 L263.6,433.3 L265.0,431.9 L266.5,430.7 L267.9,429.9 L269.4,429.4 L270.8,429.3 L272.3,429.6 L273.7,430.3 L275.2,431.3 L276.6,432.7 L278.1,434.3 L279.5,436.3 L281.0,438.5 L282.4,440.9 L283.9,443.5 L285.3,446.2 L286.8,449.0 L288.2,451.9 L289.7,454.9 L291.1,457.8 L292.6,460.7 L294.0,463.6 L295.5,466.3 L296.9,468.9 L298.4,471.4 L299.8,473.7 L301.3,475.8 L302.7,477.8 L304.2,479.7 L305.6,481.4 L307.1,483.0 L308.5,484.4 L310.0,485.8 L311.4,486.9 L312.9,488.0 L314.3,489.0 L315.8,489.9 L317.2,490.6 L318.7,491.3 L320.1,491.9 L321.6,492.4 L323.0,492.8 L324.5,493.1 L325.9,493.4 L327.4,493.6 L328.8,493.7 L330.3,493.8 L331.7,493.9 L333.2,493.8 L334.6,493.8 L336.1,493.7 L337.5,493.6 L339.0,493.5 L340.4,493.3 L341.9,493.2 L343.3,493.0 L344.8,492.8 L346.2,492.7 L347.7,492.5 L349.1,492.4 L350.6,492.2 L352.0,492.1 L353.5,492.1 L354.9,492.1 L356.4,492.1 L357.8,492.2 L359.3,492.3 L360.7,492.5 L362.2,492.7 L363.6,493.1 L365.1,493.5 L366.5,493.9 L368.0,494.5 L369.4,495.1 L370.9,495.7 L372.3,496.4 L373.8,497.1 L375.2,497.9 L376.7,498.7 L378.1,499.5 L379.6,500.3 L381.0,501.2 L382.5,502.1 L383.9,502.9 L385.4,503.8 L386.8,504.6 L388.3,505.4 L389.7,506.2 L391.2,507.0 L392.6,507.8 L394.1,508.6 L395.5,509.3 L397.0,510.0 L398.4,510.7 L399.9,511.4 L401.3,512.0 L402.8,512.6 L404.2,513.2 L405.7,513.8 L407.1,514.3 L408.6,514.8 L410.0,515.3 L411.5,515.7 L412.9,516.1 L414.4,516.5 L415.8,516.9 L417.3,517.2 L418.7,517.6 L420.2,517.9 L421.6,518.1 L423.1,518.4 L424.5,518.7 L426.0,518.9 L427.4,519.1 L428.9,519.3 L430.3,519.6 L431.8,519.7 L433.2,519.9 L434.7,520.1 L436.1,520.3 L437.6,520.5 L439.0,520.6 L440.5,520.8 L441.9,521.0 L443.4,521.1 L444.8,521.3 L446.3,521.4 L447.7,521.6 L449.2,521.7 L450.6,521.9 L452.1,522.0 L453.5,522.2 L455.0,522.3 L456.4,522.4 L457.9,522.6 L459.3,522.7 L460.8,522.9 L462.2,523.0 L463.7,523.1 L465.1,523.2 L466.6,523.4 L468.0,523.5 L469.5,523.6 L470.9,523.7 L472.4,523.8 L473.8,523.9 L475.3,524.1 L476.7,524.2 L478.2,524.3 L479.6,524.4 L481.1,524.5 L482.5,524.6 L484.0,524.7 L485.4,524.8 L486.9,524.9 L488.3,525.0 L489.8,525.0 L491.2,525.1 L492.7,525.2 L494.1,525.3 L495.6,525.4 L497.0,525.5 L498.5,525.6 L499.9,525.6 L501.4,525.7 L502.8,525.8 L504.3,525.9 L505.7,525.9 L507.2,526.0 L508.6,526.1 L510.1,526.1 L511.5,526.2 L513.0,526.3 L514.4,526.3 L515.9,526.4 L517.3,526.4 L518.8,526.5 L520.2,526.6 L521.7,526.6 L523.1,526.7 L524.6,526.7 L526.0,526.8 L527.5,526.8 L528.9,526.9 L530.4,526.9 L531.8,527.0 L533.3,527.0 L534.7,527.0 L536.2,527.1 L537.6,527.1 L539.1,527.2 L540.5,527.2 L542.0,527.2 L543.4,527.3 L544.9,527.3 L546.3,527.3 L547.8,527.4 L549.2,527.4 L550.7,527.4 L552.1,527.5 L553.6,527.5 L555.0,527.5 L556.5,527.5 L557.9,527.6 L559.4,527.6 L560.8,527.6 L562.3,527.6 L563.7,527.6 L565.2,527.7 L566.6,527.7 L568.1,527.7 L569.5,527.7 L571.0,527.7 L572.4,527.7 L573.9,527.8 L575.3,527.8 L576.8,527.8 L578.2,527.8 L579.7,527.8 L581.1,527.8 L582.6,527.8 L584.0,527.8 L585.5,527.9 L586.9,527.9 L588.4,527.9 L589.8,527.9 L591.3,527.9 L592.7,527.9 L594.2,527.9 L595.6,527.9 L597.1,527.9 L598.5,527.9 L600.0,527.9 L601.4,527.9 L602.9,527.9 L604.3,527.9 L605.8,527.9 L607.2,527.9 L608.7,527.9 L610.1,527.9 L611.6,527.9 L613.0,527.9 L614.5,527.9 L615.9,527.9 L617.4,527.9 L618.8,527.9 L620.3,527.9 L621.7,527.9 L623.2,527.9 L624.6,527.9 L626.1,527.9 L627.5,527.9 L629.0,527.9 L630.4,527.9 L631.9,527.9 L633.3,527.9 L634.8,527.9 L636.2,527.9 L637.7,527.9 L639.1,527.9 L640.6,527.9 L642.0,527.9 L643.5,527.9 L644.9,527.9 L646.4,527.9 L647.8,527.9 L649.3,527.9 L650.7,527.9 L652.2,527.9 L653.6,527.9 L655.1,527.9 L656.5,528.0 L658.0,528.0 L659.4,528.0 L660.9,528.0 L662.3,528.0 L663.8,528.0 L665.2,528.0 L666.7,528.0 L668.1,528.0 L669.6,528.0 L671.0,528.0" fill="none" stroke="#e00a0a" stroke-width="3" stroke-linejoin="round"/>
<path d="M92.5,525.4 L93.9,525.2 L95.4,525.0 L96.8,524.9 L98.3,524.7 L99.7,524.6 L101.2,524.4 L102.6,524.3 L104.1,524.2 L105.5,524.0 L107.0,523.9 L108.4,523.8 L109.9,523.6 L111.3,523.5 L112.8,523.3 L114.2,523.2 L115.7,523.0 L117.1,522.9 L118.6,522.7 L120.0,522.5 L121.5,522.3 L122.9,522.1 L124.4,521.8 L125.8,521.6 L127.3,521.3 L128.7,521.0 L130.2,520.7 L131.6,520.4 L133.1,520.0 L134.5,519.6 L136.0,519.2 L137.4,518.8 L138.9,518.3 L140.3,517.8 L141.8,517.3 L143.2,516.7 L144.7,516.1 L146.1,515.5 L147.6,514.8 L149.0,514.1 L150.5,513.3 L151.9,512.5 L153.4,511.7 L154.8,510.8 L156.3,509.9 L157.7,508.9 L159.2,507.8 L160.6,506.6 L162.1,505.3 L163.5,503.8 L165.0,502.2 L166.4,500.3 L167.9,498.3 L169.3,495.9 L170.8,493.3 L172.2,490.4 L173.7,487.2 L175.1,483.7 L176.6,480.1 L178.0,476.3 L179.5,472.5 L180.9,468.7 L182.4,464.9 L183.8,461.3 L185.3,457.8 L186.7,454.6 L188.2,451.6 L189.6,448.9 L191.1,446.5 L192.5,444.3 L194.0,442.3 L195.4,440.6 L196.9,439.1 L198.3,437.8 L199.8,436.7 L201.2,435.8 L202.7,435.2 L204.1,434.7 L205.6,434.5 L207.0,434.4 L208.5,434.4 L209.9,434.6 L211.4,435.0 L212.8,435.4 L214.3,435.8 L215.7,436.4 L217.2,436.9 L218.6,437.5 L220.1,438.1 L221.5,438.6 L223.0,439.1 L224.4,439.6 L225.9,439.9 L227.3,440.1 L228.8,440.2 L230.2,440.1 L231.7,439.9 L233.1,439.6 L234.6,439.1 L236.0,438.5 L237.5,437.7 L238.9,436.8 L240.4,435.7 L241.8,434.6 L243.3,433.3 L244.7,432.0 L246.2,430.6 L247.6,429.1 L249.1,427.6 L250.5,426.1 L252.0,424.7 L253.4,423.2 L254.9,421.8 L256.3,420.4 L257.8,419.1 L259.2,417.9 L260.7,416.8 L262.1,415.9 L263.6,415.1 L265.0,414.4 L266.5,414.0 L267.9,413.8 L269.4,413.8 L270.8,414.1 L272.3,414.8 L273.7,415.7 L275.2,417.0 L276.6,418.7 L278.1,420.8 L279.5,423.2 L281.0,425.9 L282.4,428.7 L283.9,431.7 L285.3,434.7 L286.8,437.6 L288.2,440.5 L289.7,443.4 L291.1,446.2 L292.6,449.0 L294.0,451.7 L295.5,454.3 L296.9,456.9 L298.4,459.3 L299.8,461.7 L301.3,464.0 L302.7,466.2 L304.2,468.3 L305.6,470.3 L307.1,472.1 L308.5,473.9 L310.0,475.5 L311.4,477.0 L312.9,478.3 L314.3,479.5 L315.8,480.5 L317.2,481.4 L318.7,482.1 L320.1,482.8 L321.6,483.2 L323.0,483.6 L324.5,483.9 L325.9,484.0 L327.4,484.1 L328.8,484.1 L330.3,484.0 L331.7,483.9 L333.2,483.7 L334.6,483.4 L336.1,483.1 L337.5,482.8 L339.0,482.5 L340.4,482.1 L341.9,481.7 L343.3,481.4 L344.8,481.0 L346.2,480.7 L347.7,480.4 L349.1,480.1 L350.6,479.9 L352.0,479.7 L353.5,479.5 L354.9,479.4 L356.4,479.2 L357.8,479.1 L359.3,479.0 L360.7,478.9 L362.2,478.9 L363.6,478.8 L365.1,478.7 L366.5,478.7 L368.0,478.7 L369.4,478.6 L370.9,478.6 L372.3,478.6 L373.8,478.5 L375.2,478.5 L376.7,478.4 L378.1,478.4 L379.6,478.3 L381.0,478.2 L382.5,478.1 L383.9,478.0 L385.4,477.9 L386.8,477.8 L388.3,477.6 L389.7,477.4 L391.2,477.1 L392.6,476.9 L394.1,476.6 L395.5,476.3 L397.0,475.9 L398.4,475.5 L399.9,475.1 L401.3,474.6 L402.8,474.1 L404.2,473.5 L405.7,472.9 L407.1,472.3 L408.6,471.6 L410.0,470.8 L411.5,470.1 L412.9,469.4 L414.4,468.7 L415.8,468.0 L417.3,467.4 L418.7,466.9 L420.2,466.4 L421.6,466.1 L423.1,465.8 L424.5,465.7 L426.0,465.8 L427.4,465.9 L428.9,466.2 L430.3,466.7 L431.8,467.2 L433.2,467.8 L434.7,468.6 L436.1,469.4 L437.6,470.3 L439.0,471.3 L440.5,472.3 L441.9,473.4 L443.4,474.5 L444.8,475.7 L446.3,476.9 L447.7,478.2 L449.2,479.5 L450.6,480.7 L452.1,482.0 L453.5,483.3 L455.0,484.6 L456.4,485.9 L457.9,487.2 L459.3,488.4 L460.8,489.6 L462.2,490.8 L463.7,492.0 L465.1,493.0 L466.6,494.1 L468.0,495.1 L469.5,496.1 L470.9,497.1 L472.4,498.0 L473.8,498.9 L475.3,499.8 L476.7,500.6 L478.2,501.5 L479.6,502.3 L481.1,503.1 L482.5,503.9 L484.0,504.7 L485.4,505.5 L486.9,506.3 L488.3,507.0 L489.8,507.8 L491.2,508.6 L492.7,509.3 L494.1,510.1 L495.6,510.9 L497.0,511.6 L498.5,512.3 L499.9,513.1 L501.4,513.8 L502.8,514.5 L504.3,515.2 L505.7,515.9 L507.2,516.5 L508.6,517.2 L510.1,517.8 L511.5,518.4 L513.0,518.9 L514.4,519.5 L515.9,520.0 L517.3,520.5 L518.8,520.9 L520.2,521.4 L521.7,521.8 L523.1,522.1 L524.6,522.5 L526.0,522.8 L527.5,523.0 L528.9,523.3 L530.4,523.5 L531.8,523.7 L533.3,523.8 L534.7,524.0 L536.2,524.1 L537.6,524.2 L539.1,524.2 L540.5,524.3 L542.0,524.3 L543.4,524.4 L544.9,524.4 L546.3,524.4 L547.8,524.4 L549.2,524.3 L550.7,524.3 L552.1,524.3 L553.6,524.2 L555.0,524.2 L556.5,524.2 L557.9,524.1 L559.4,524.1 L560.8,524.0 L562.3,524.0 L563.7,524.0 L565.2,523.9 L566.6,523.9 L568.1,523.9 L569.5,523.8 L571.0,523.8 L572.4,523.8 L573.9,523.8 L575.3,523.8 L576.8,523.7 L578.2,523.7 L579.7,523.7 L581.1,523.7 L582.6,523.7 L584.0,523.7 L585.5,523.7 L586.9,523.7 L588.4,523.7 L589.8,523.7 L591.3,523.7 L592.7,523.7 L594.2,523.7 L595.6,523.7 L597.1,523.7 L598.5,523.7 L600.0,523.7 L601.4,523.7 L602.9,523.7 L604.3,523.8 L605.8,523.8 L607.2,523.8 L608.7,523.8 L610.1,523.8 L611.6,523.8 L613.0,523.8 L614.5,523.8 L615.9,523.9 L617.4,523.9 L618.8,523.9 L620.3,523.9 L621.7,523.9 L623.2,523.9 L624.6,523.9 L626.1,524.0 L627.5,524.0 L629.0,524.0 L630.4,524.0 L631.9,524.0 L633.3,524.0 L634.8,524.0 L636.2,524.0 L637.7,524.0 L639.1,524.0 L640.6,524.0 L642.0,524.1 L643.5,524.1 L644.9,524.1 L646.4,524.1 L647.8,524.1 L649.3,524.1 L650.7,524.1 L652.2,524.0 L653.6,524.0 L655.1,524.0 L656.5,524.0 L658.0,524.0 L659.4,524.0 L660.9,524.0 L662.3,524.0 L663.8,523.9 L665.2,523.9 L666.7,523.9 L668.1,523.9 L669.6,523.8 L671.0,523.8" fill="none" stroke="#000" stroke-width="3" stroke-dasharray="7 5.5" stroke-linejoin="round"/>
<circle cx="201.0" cy="451.1" r="4.8" fill="#fff" stroke="#000" stroke-width="1.6"/>
<circle cx="270.7" cy="429.0" r="4.8" fill="#fff" stroke="#000" stroke-width="1.6"/>
<circle cx="356.1" cy="490.2" r="4.8" fill="#fff" stroke="#000" stroke-width="1.6"/>
<circle cx="428.3" cy="476.8" r="4.8" fill="#fff" stroke="#000" stroke-width="1.6"/>
<rect x="92.5" y="374.5" width="579.0" height="161.2" fill="none" stroke="#000" stroke-width="3"/>
<text x="88.0" y="382.7" font-family="Liberation Sans, sans-serif" font-size="26.5" font-weight="bold" font-style="normal" text-anchor="end" >300</text>
<text x="88.0" y="461.0" font-family="Liberation Sans, sans-serif" font-size="26.5" font-weight="bold" font-style="normal" text-anchor="end" >150</text>
<text x="88.0" y="538.9" font-family="Liberation Sans, sans-serif" font-size="26.5" font-weight="bold" font-style="normal" text-anchor="end" >0</text>
<text x="164.8" y="565.8" font-family="Liberation Sans, sans-serif" font-size="26.5" font-weight="bold" font-style="normal" text-anchor="middle" >0,3</text>
<text x="381.8" y="565.8" font-family="Liberation Sans, sans-serif" font-size="26.5" font-weight="bold" font-style="normal" text-anchor="middle" >0,6</text>
<text x="598.8" y="565.8" font-family="Liberation Sans, sans-serif" font-size="26.5" font-weight="bold" font-style="normal" text-anchor="middle" >0,9</text>
<text x="277.0" y="588.2" font-family="Liberation Sans, sans-serif" font-size="24.0" font-weight="bold" font-style="italic" text-anchor="start" textLength="209" lengthAdjust="spacingAndGlyphs">Frequency (GHz)</text>
<path d="M13.3,441.6 L33.6,460.4" stroke="#000" stroke-width="2.3" stroke-linecap="round"/>
<path d="M17,456.2 C13.5,454.5 11.8,451.5 14.5,450 C17.5,448.5 21,450.5 25,450.6 C29,450.7 32.5,448.8 31.6,446.2 C31.2,445.2 30.5,444.6 29.8,444.3" fill="none" stroke="#000" stroke-width="1.9" stroke-linecap="round"/>
<path d="M1.8,428.2 L10.4,429.2 L10.4,431.3 L1.8,431.9 Z M1.8,433.8 L10.4,434.7 L10.4,436.9 L1.8,437.6 Z" fill="#000"/>
<text x="104.0" y="403.2" font-family="Liberation Sans, sans-serif" font-size="26.0" font-weight="bold" font-style="normal" text-anchor="start" >(c)</text>
<text transform="translate(165.5 435.5) scale(1.12 1)" font-family="Liberation Sans, sans-serif" font-size="23.8" font-weight="bold">f</text><text x="174.4" y="435.5" font-family="Liberation Sans, sans-serif" font-size="18.5">1-</text>
<text transform="translate(279.2 413.7) scale(1.12 1)" font-family="Liberation Sans, sans-serif" font-size="23.8" font-weight="bold">f</text><text x="288.1" y="413.7" font-family="Liberation Sans, sans-serif" font-size="18.5">1+</text>
<text transform="translate(344.8 471.3) scale(1.12 1)" font-family="Liberation Sans, sans-serif" font-size="23.8" font-weight="bold">f</text><text x="353.7" y="471.3" font-family="Liberation Sans, sans-serif" font-size="18.5">2+</text>
<text transform="translate(439.6 463.7) scale(1.12 1)" font-family="Liberation Sans, sans-serif" font-size="23.8" font-weight="bold">f</text><text x="448.5" y="463.7" font-family="Liberation Sans, sans-serif" font-size="18.5">2-</text>
<text x="500" y="397" font-family="Liberation Sans, sans-serif" font-weight="bold"><tspan font-size="21.5">H</tspan><tspan font-size="12.2" dx="0.8">DC</tspan><tspan font-size="20.5" font-weight="normal">,</tspan><tspan font-size="21.5" dx="2.2">Oe</tspan></text>
<line x1="499.4" y1="414.5" x2="544" y2="414.5" stroke="#000" stroke-width="1.8"/>
<line x1="499.4" y1="438.5" x2="544.6" y2="438.5" stroke="#0a0ae6" stroke-width="2.8"/>
<line x1="499.4" y1="461.9" x2="544.6" y2="461.9" stroke="#e00a0a" stroke-width="2.8"/>
<line x1="499.4" y1="485.8" x2="544.6" y2="485.8" stroke="#000" stroke-width="2.8" stroke-dasharray="6.5 5.8"/>
<text x="547.8" y="421.5" font-family="Liberation Sans, sans-serif" font-size="19.5" font-weight="normal" font-style="normal" text-anchor="start" >0</text>
<text x="547.8" y="444.6" font-family="Liberation Sans, sans-serif" font-size="19.5" font-weight="normal" font-style="normal" text-anchor="start" >-200</text>
<text x="547.8" y="468.0" font-family="Liberation Sans, sans-serif" font-size="19.5" font-weight="normal" font-style="normal" text-anchor="start" >200</text>
<text x="547.8" y="491.4" font-family="Liberation Sans, sans-serif" font-size="19.5" font-weight="normal" font-style="normal" text-anchor="start" >superposition</text>
</svg>
</div></body></html>
